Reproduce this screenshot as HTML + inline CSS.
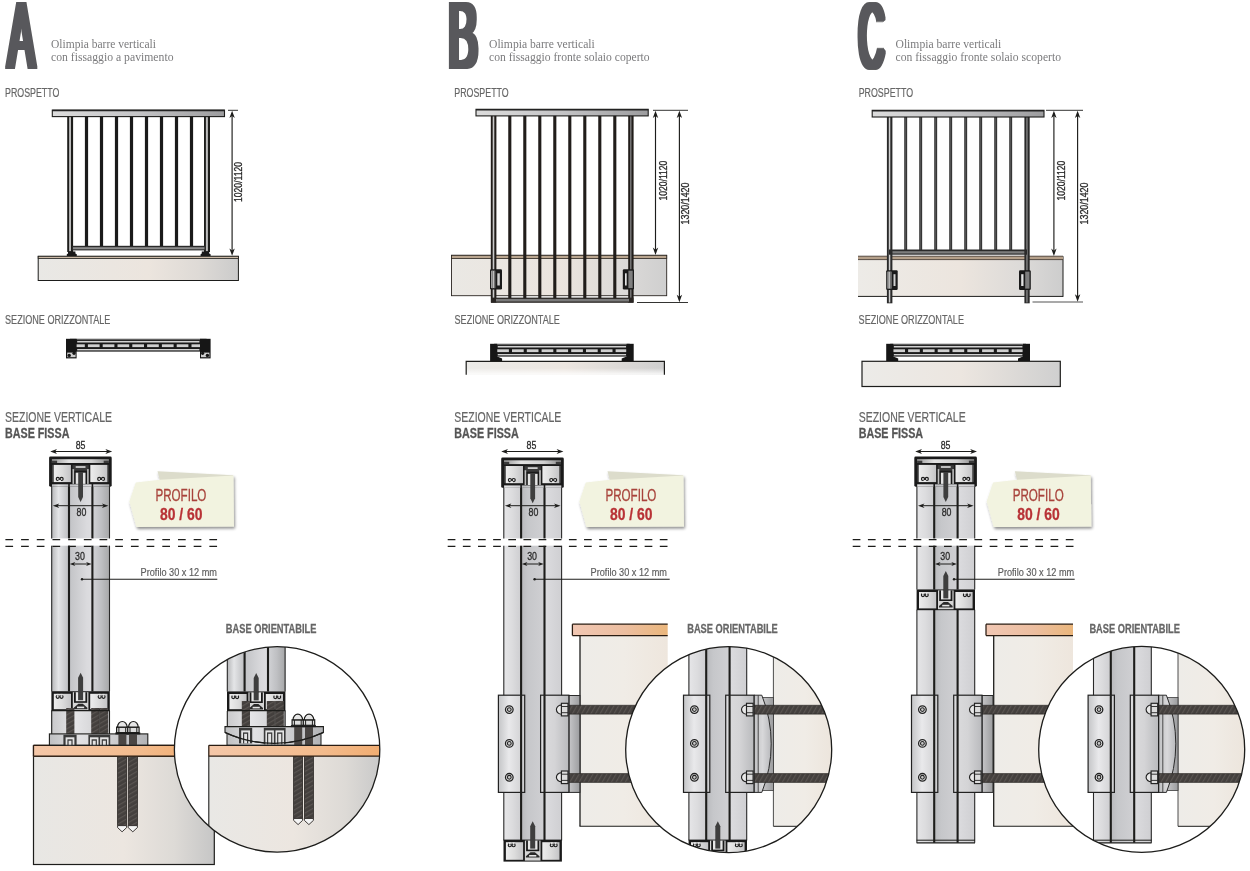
<!DOCTYPE html>
<html lang="it"><head><meta charset="utf-8"><title>Olimpia barre verticali</title>
<style>
html,body{margin:0;padding:0;background:#fff;}
body{width:1250px;height:871px;overflow:hidden;font-family:"Liberation Sans",sans-serif;}
svg{display:block;}
</style></head><body>
<svg width="1250" height="871" viewBox="0 0 1250 871" style="will-change:transform">
<rect width="1250" height="871" fill="#fff"/>

<defs>
<linearGradient id="gRail" x1="0" x2="1" y1="0" y2="0"><stop offset="0" stop-color="#dcdcdc"/><stop offset="0.5" stop-color="#c4c4c6"/><stop offset="1" stop-color="#9c9c9e"/></linearGradient>
<linearGradient id="gGroundA" x1="0" x2="1"><stop offset="0" stop-color="#e9e8e5"/><stop offset="0.55" stop-color="#ece5de"/><stop offset="0.8" stop-color="#dedad6"/><stop offset="1" stop-color="#cbcbcb"/></linearGradient>
<linearGradient id="gGroundB" x1="0" x2="1"><stop offset="0" stop-color="#eae8e4"/><stop offset="0.5" stop-color="#ece5de"/><stop offset="0.8" stop-color="#dcdad8"/><stop offset="1" stop-color="#cfcfcf"/></linearGradient>
<linearGradient id="gGroundC" x1="0" x2="1"><stop offset="0" stop-color="#edebe7"/><stop offset="0.5" stop-color="#ece5de"/><stop offset="0.8" stop-color="#dcdad8"/><stop offset="1" stop-color="#cdcdcd"/></linearGradient>
<linearGradient id="gSlabH" x1="0" x2="1"><stop offset="0" stop-color="#ecebe8"/><stop offset="0.5" stop-color="#ece6e0"/><stop offset="1" stop-color="#cfcfcf"/></linearGradient>
<linearGradient id="gFadeDown" x1="0" x2="0" y1="0" y2="1"><stop offset="0.5" stop-color="#fff" stop-opacity="0"/><stop offset="1" stop-color="#fff" stop-opacity="0.9"/></linearGradient>
<linearGradient id="gP1" x1="0" x2="1"><stop offset="0" stop-color="#b4b5b7"/><stop offset="0.4" stop-color="#e4e5e7"/><stop offset="1" stop-color="#bcbdc0"/></linearGradient>
<linearGradient id="gP2" x1="0" x2="1"><stop offset="0" stop-color="#c2c3c6"/><stop offset="0.75" stop-color="#dadadd"/><stop offset="1" stop-color="#dedee1"/></linearGradient>
<linearGradient id="gP3" x1="0" x2="1"><stop offset="0" stop-color="#d2d3d6"/><stop offset="0.5" stop-color="#bfc0c3"/><stop offset="1" stop-color="#a6a7a8"/></linearGradient>
<linearGradient id="gQ1" x1="0" x2="1"><stop offset="0" stop-color="#e6e6e8"/><stop offset="0.5" stop-color="#dcdcde"/><stop offset="1" stop-color="#cdcdd0"/></linearGradient>
<linearGradient id="gQ2" x1="0" x2="1"><stop offset="0" stop-color="#b9babd"/><stop offset="0.3" stop-color="#c6c7ca"/><stop offset="1" stop-color="#d0d0d3"/></linearGradient>
<linearGradient id="gQ3" x1="0" x2="1"><stop offset="0" stop-color="#dcdcdf"/><stop offset="1" stop-color="#cfcfd2"/></linearGradient>
<linearGradient id="gPeach2" x1="0" x2="1"><stop offset="0" stop-color="#f1c7b3"/><stop offset="0.55" stop-color="#ecbea0"/><stop offset="1" stop-color="#eab67c"/></linearGradient>
<linearGradient id="gStrip" x1="0" x2="1"><stop offset="0" stop-color="#9a9a9a"/><stop offset="0.3" stop-color="#e2e2e2"/><stop offset="0.7" stop-color="#d0d0d0"/><stop offset="1" stop-color="#8a8a8a"/></linearGradient>
<linearGradient id="gCh" x1="0" x2="1"><stop offset="0" stop-color="#ededed"/><stop offset="0.5" stop-color="#dcdcdc"/><stop offset="1" stop-color="#c4c4c6"/></linearGradient>
<linearGradient id="gLow" x1="0" x2="1"><stop offset="0" stop-color="#c9c9cb"/><stop offset="0.4" stop-color="#e6e6e8"/><stop offset="1" stop-color="#c8c8ca"/></linearGradient>
<linearGradient id="gPlate" x1="0" x2="1"><stop offset="0" stop-color="#bfc0c2"/><stop offset="0.3" stop-color="#e2e2e4"/><stop offset="0.6" stop-color="#d2d2d4"/><stop offset="1" stop-color="#b2b3b6"/></linearGradient>
<linearGradient id="gPeach" x1="0" x2="1"><stop offset="0" stop-color="#f4c7a8"/><stop offset="0.6" stop-color="#f3bb8c"/><stop offset="1" stop-color="#f0a868"/></linearGradient>
<linearGradient id="gConcA" x1="0" x2="1"><stop offset="0" stop-color="#e8e7e4"/><stop offset="0.5" stop-color="#ece6e0"/><stop offset="0.78" stop-color="#dddad6"/><stop offset="1" stop-color="#c6c6c6"/></linearGradient>
<linearGradient id="gConcCA" gradientUnits="userSpaceOnUse" x1="208" x2="380"><stop offset="0" stop-color="#e9e8e5"/><stop offset="0.5" stop-color="#ece6e0"/><stop offset="0.8" stop-color="#dddad6"/><stop offset="1" stop-color="#c9c9c9"/></linearGradient>
<linearGradient id="gSlabV" x1="0" x2="1"><stop offset="0" stop-color="#eeece8"/><stop offset="0.5" stop-color="#f0ece6"/><stop offset="1" stop-color="#eee6dd"/></linearGradient>
<linearGradient id="gSlabV2" x1="0" x2="1"><stop offset="0" stop-color="#eeece8"/><stop offset="0.5" stop-color="#f0ece6"/><stop offset="1" stop-color="#ece4db"/></linearGradient>
<linearGradient id="gSl" x1="0" x2="1"><stop offset="0" stop-color="#c4c5c7"/><stop offset="0.4" stop-color="#e9e9eb"/><stop offset="1" stop-color="#cdcdcf"/></linearGradient>
<linearGradient id="gSr" x1="0" x2="1"><stop offset="0" stop-color="#dcdcde"/><stop offset="0.5" stop-color="#d4d4d6"/><stop offset="1" stop-color="#b9babd"/></linearGradient>
<linearGradient id="gExt" x1="0" x2="1"><stop offset="0" stop-color="#c6c6c8"/><stop offset="1" stop-color="#9c9d9f"/></linearGradient>
<linearGradient id="gLens" x1="0" x2="1"><stop offset="0" stop-color="#c0c1c3"/><stop offset="0.5" stop-color="#d8d8da"/><stop offset="1" stop-color="#b8b9bc"/></linearGradient>
<pattern id="hatch" width="4" height="4" patternUnits="userSpaceOnUse" patternTransform="rotate(-30)"><rect width="4" height="4" fill="#433f3d"/><rect width="4" height="1.2" fill="#5a5552"/></pattern>
<pattern id="hatchH" width="4" height="4" patternUnits="userSpaceOnUse" patternTransform="rotate(-60)"><rect width="4" height="4" fill="#433f3d"/><rect width="4" height="1.2" fill="#5a5552"/></pattern>
<filter id="fWide" x="-20%" y="-5%" width="140%" height="110%"><feMorphology operator="dilate" radius="3 0.6"/></filter>
<filter id="fShadow" x="-10%" y="-10%" width="125%" height="130%"><feGaussianBlur in="SourceAlpha" stdDeviation="1.6"/><feOffset dx="1" dy="1.8" result="o"/><feComponentTransfer><feFuncA type="linear" slope="0.45"/></feComponentTransfer><feMerge><feMergeNode/><feMergeNode in="SourceGraphic"/></feMerge></filter>
<clipPath id="clipA"><circle cx="277.1" cy="749.4" r="102.7"/></clipPath>
<clipPath id="clipB"><circle cx="728.7" cy="749.6" r="103"/></clipPath>
<clipPath id="clipC"><circle cx="1141.7" cy="749.4" r="103"/></clipPath>
</defs>

<g filter="url(#fWide)"><text transform="translate(8 68.2) scale(0.42 1)" x="0" y="0" font-family="'Liberation Sans', sans-serif" font-size="94.49" fill="#59595b">A</text></g>
<text x="51" y="47.8" font-family="'Liberation Serif', serif" font-size="12.2" fill="#7b7b7d" textLength="105" lengthAdjust="spacingAndGlyphs">Olimpia barre verticali</text>
<text x="51" y="61" font-family="'Liberation Serif', serif" font-size="12.2" fill="#7b7b7d" textLength="122.5" lengthAdjust="spacingAndGlyphs">con fissaggio a pavimento</text>
<text x="5" y="96.9" font-family="'Liberation Sans', sans-serif" font-size="12.6" fill="#666" textLength="54.4" lengthAdjust="spacingAndGlyphs" stroke="#666" stroke-width="0.2">PROSPETTO</text>
<g filter="url(#fWide)"><text transform="translate(448.15 68.2) scale(0.47 1)" x="0" y="0" font-family="'Liberation Sans', sans-serif" font-size="94.49" fill="#59595b">B</text></g>
<text x="489" y="47.8" font-family="'Liberation Serif', serif" font-size="12.2" fill="#7b7b7d" textLength="105.8" lengthAdjust="spacingAndGlyphs">Olimpia barre verticali</text>
<text x="489" y="61" font-family="'Liberation Serif', serif" font-size="12.2" fill="#7b7b7d" textLength="160.6" lengthAdjust="spacingAndGlyphs">con fissaggio fronte solaio coperto</text>
<text x="454.3" y="96.9" font-family="'Liberation Sans', sans-serif" font-size="12.6" fill="#666" textLength="54.4" lengthAdjust="spacingAndGlyphs" stroke="#666" stroke-width="0.2">PROSPETTO</text>
<g filter="url(#fWide)"><text transform="translate(858.85 67.7) scale(0.38 1)" x="0" y="0" font-family="'Liberation Sans', sans-serif" font-size="92.61" fill="#59595b">C</text></g>
<text x="895.5" y="47.8" font-family="'Liberation Serif', serif" font-size="12.2" fill="#7b7b7d" textLength="105.8" lengthAdjust="spacingAndGlyphs">Olimpia barre verticali</text>
<text x="895.5" y="61" font-family="'Liberation Serif', serif" font-size="12.2" fill="#7b7b7d" textLength="165.5" lengthAdjust="spacingAndGlyphs">con fissaggio fronte solaio scoperto</text>
<text x="858.7" y="96.9" font-family="'Liberation Sans', sans-serif" font-size="12.6" fill="#666" textLength="54.4" lengthAdjust="spacingAndGlyphs" stroke="#666" stroke-width="0.2">PROSPETTO</text>
<rect x="38.2" y="256.3" width="200.2" height="24.2" fill="url(#gGroundA)" stroke="#1d1d1b" stroke-width="1"/>
<rect x="38.2" y="256.3" width="200.2" height="2.1" fill="#cbb9a6" stroke="#1d1d1b" stroke-width="0.8"/>
<rect x="84.9" y="116" width="3.2" height="130.5" fill="#1a1a1a"/>
<rect x="99.9" y="116" width="3.2" height="130.5" fill="#1a1a1a"/>
<rect x="114.9" y="116" width="3.2" height="130.5" fill="#1a1a1a"/>
<rect x="129.9" y="116" width="3.2" height="130.5" fill="#1a1a1a"/>
<rect x="144.9" y="116" width="3.2" height="130.5" fill="#1a1a1a"/>
<rect x="159.9" y="116" width="3.2" height="130.5" fill="#1a1a1a"/>
<rect x="174.9" y="116" width="3.2" height="130.5" fill="#1a1a1a"/>
<rect x="189.9" y="116" width="3.2" height="130.5" fill="#1a1a1a"/>
<rect x="67.2" y="116" width="5.9" height="136" fill="#1d1d1b"/>
<rect x="69.1" y="116" width="1.9" height="135.2" fill="#bdbdbd"/>
<rect x="204" y="116" width="6" height="136" fill="#1d1d1b"/>
<rect x="205.9" y="116" width="2" height="135.2" fill="#bdbdbd"/>
<rect x="72" y="245.8" width="133" height="4.6" fill="#2a2a2a"/>
<rect x="73" y="247.2" width="131.5" height="2.1" fill="#8c8c8c"/>
<path d="M66.8 256 L66.8 254.2 L68 253.6 L68 251.6 L75.4 251.6 L75.4 253.6 L76.8 254.2 L76.8 256Z" fill="#1a1a1a"/>
<path d="M200.6 256 L200.6 254.2 L201.8 253.6 L201.8 251.6 L209.2 251.6 L209.2 253.6 L210.6 254.2 L210.6 256Z" fill="#1a1a1a"/>
<rect x="52.3" y="110.1" width="172.2" height="6.5" fill="url(#gRail)" stroke="#1d1d1b" stroke-width="1.1"/>
<line x1="52.3" y1="110.5" x2="224.5" y2="110.5" stroke="#222" stroke-width="1.6" />
<line x1="228" y1="110.3" x2="238" y2="110.3" stroke="#1d1d1b" stroke-width="0.9" />
<line x1="232.1" y1="113.3" x2="232.1" y2="253" stroke="#1d1d1b" stroke-width="1.15" />
<path d="M232.1 110.7 L234.8 118.1 L232.1 116.03 L229.4 118.1Z" fill="#1d1d1b"/>
<path d="M232.1 255.8 L229.4 248.4 L232.1 250.47 L234.8 248.4Z" fill="#1d1d1b"/>
<text transform="translate(242 182) rotate(-90)" x="0" y="0" text-anchor="middle" font-family="'Liberation Sans', sans-serif" font-size="10.7" fill="#2a2a2a" stroke="#2a2a2a" stroke-width="0.3" textLength="40" lengthAdjust="spacingAndGlyphs">1020/1120</text>
<rect x="451.5" y="255.3" width="215.2" height="40.4" fill="url(#gGroundB)" stroke="#2a2520" stroke-width="0.9"/>
<rect x="451.5" y="255.3" width="215.2" height="3.2" fill="#b9a58f" stroke="#2a2520" stroke-width="0.8"/>
<rect x="508.25" y="115" width="3.1" height="184" fill="#211d1a"/>
<rect x="523.25" y="115" width="3.1" height="184" fill="#211d1a"/>
<rect x="538.25" y="115" width="3.1" height="184" fill="#211d1a"/>
<rect x="553.25" y="115" width="3.1" height="184" fill="#211d1a"/>
<rect x="568.25" y="115" width="3.1" height="184" fill="#211d1a"/>
<rect x="583.25" y="115" width="3.1" height="184" fill="#211d1a"/>
<rect x="598.25" y="115" width="3.1" height="184" fill="#211d1a"/>
<rect x="613.25" y="115" width="3.1" height="184" fill="#211d1a"/>
<rect x="490.8" y="115" width="5.6" height="187.6" fill="#211d1a"/>
<rect x="492.7" y="115" width="1.6" height="186.8" fill="#c9c9c9"/>
<rect x="628.2" y="115" width="5.4" height="187.6" fill="#211d1a"/>
<rect x="630.1" y="115" width="1.4" height="186.8" fill="#7d7d7d"/>
<rect x="491" y="297.6" width="142.5" height="5.2" fill="#2a2623"/>
<rect x="496" y="298.9" width="133" height="2.6" fill="#7a7a7a"/>
<rect x="490" y="269.3" width="12" height="20.2" rx="1.2" fill="#1a1a1a"/>
<rect x="491.3" y="270.7" width="3.9" height="17.4" fill="#d6d6d6"/>
<line x1="492.6" y1="270.5" x2="492.6" y2="288.3" stroke="#555" stroke-width="0.7" />
<line x1="494.4" y1="270.5" x2="494.4" y2="288.3" stroke="#333" stroke-width="0.7" />
<rect x="497.3" y="273.3" width="2.5" height="12.2" fill="#d0d0d0"/>
<rect x="622.8" y="269.3" width="11.2" height="20.2" rx="1.2" fill="#1a1a1a"/>
<rect x="628.4" y="270.7" width="4.3" height="17.4" fill="#7e7e7e"/>
<rect x="625" y="273.3" width="1.7" height="12.2" fill="#e2e2e2"/>
<rect x="476" y="109.3" width="172.2" height="6.6" fill="url(#gRail)" stroke="#1d1d1b" stroke-width="1.1"/>
<line x1="476" y1="109.7" x2="648.2" y2="109.7" stroke="#222" stroke-width="1.6" />
<line x1="653" y1="110.3" x2="688" y2="110.3" stroke="#1d1d1b" stroke-width="0.9" />
<line x1="637" y1="302.5" x2="688" y2="302.5" stroke="#1d1d1b" stroke-width="0.9" />
<line x1="655.5" y1="113.3" x2="655.5" y2="252.2" stroke="#1d1d1b" stroke-width="1.15" />
<path d="M655.5 110.7 L658.2 118.1 L655.5 116.03 L652.8 118.1Z" fill="#1d1d1b"/>
<path d="M655.5 255 L652.8 247.6 L655.5 249.67 L658.2 247.6Z" fill="#1d1d1b"/>
<text transform="translate(667 180.6) rotate(-90)" x="0" y="0" text-anchor="middle" font-family="'Liberation Sans', sans-serif" font-size="10.7" fill="#2a2a2a" stroke="#2a2a2a" stroke-width="0.3" textLength="40" lengthAdjust="spacingAndGlyphs">1020/1120</text>
<line x1="679.4" y1="113.3" x2="679.4" y2="299.4" stroke="#1d1d1b" stroke-width="1.15" />
<path d="M679.4 110.7 L682.1 118.1 L679.4 116.03 L676.7 118.1Z" fill="#1d1d1b"/>
<path d="M679.4 302.2 L676.7 294.8 L679.4 296.87 L682.1 294.8Z" fill="#1d1d1b"/>
<text transform="translate(689.2 203.5) rotate(-90)" x="0" y="0" text-anchor="middle" font-family="'Liberation Sans', sans-serif" font-size="10.7" fill="#2a2a2a" stroke="#2a2a2a" stroke-width="0.3" textLength="42" lengthAdjust="spacingAndGlyphs">1320/1420</text>
<rect x="858" y="256.2" width="205" height="40.2" fill="url(#gGroundC)"/>
<line x1="858" y1="296.4" x2="1063" y2="296.4" stroke="#1d1d1b" stroke-width="1" />
<line x1="1063" y1="256.2" x2="1063" y2="296.9" stroke="#1d1d1b" stroke-width="1" />
<rect x="858" y="256.2" width="205" height="3.4" fill="#b5a08a"/>
<line x1="858" y1="256.2" x2="1063" y2="256.2" stroke="#3a3028" stroke-width="0.8" />
<line x1="858" y1="259.6" x2="1063" y2="259.6" stroke="#3a3028" stroke-width="0.8" />
<rect x="904.25" y="116.5" width="2.9" height="133.5" fill="#2b2b2b"/>
<rect x="905.15" y="116.5" width="1.1" height="133.5" fill="#5a5a5a"/>
<rect x="919.25" y="116.5" width="2.9" height="133.5" fill="#2b2b2b"/>
<rect x="920.15" y="116.5" width="1.1" height="133.5" fill="#5a5a5a"/>
<rect x="934.25" y="116.5" width="2.9" height="133.5" fill="#2b2b2b"/>
<rect x="935.15" y="116.5" width="1.1" height="133.5" fill="#5a5a5a"/>
<rect x="949.25" y="116.5" width="2.9" height="133.5" fill="#2b2b2b"/>
<rect x="950.15" y="116.5" width="1.1" height="133.5" fill="#5a5a5a"/>
<rect x="964.25" y="116.5" width="2.9" height="133.5" fill="#2b2b2b"/>
<rect x="965.15" y="116.5" width="1.1" height="133.5" fill="#5a5a5a"/>
<rect x="979.25" y="116.5" width="2.9" height="133.5" fill="#2b2b2b"/>
<rect x="980.15" y="116.5" width="1.1" height="133.5" fill="#5a5a5a"/>
<rect x="994.25" y="116.5" width="2.9" height="133.5" fill="#2b2b2b"/>
<rect x="995.15" y="116.5" width="1.1" height="133.5" fill="#5a5a5a"/>
<rect x="1009.25" y="116.5" width="2.9" height="133.5" fill="#2b2b2b"/>
<rect x="1010.15" y="116.5" width="1.1" height="133.5" fill="#5a5a5a"/>
<rect x="886.9" y="116.5" width="5.5" height="186.8" fill="#2a2a2a"/>
<rect x="888.8" y="116.5" width="1.5" height="186" fill="#d0d0d0"/>
<rect x="1024.4" y="116.5" width="5.3" height="186.8" fill="#2a2a2a"/>
<rect x="1026.3" y="116.5" width="1.3" height="186" fill="#8a8a8a"/>
<rect x="889" y="249.5" width="138" height="5.2" fill="#2a2a2a"/>
<rect x="892.5" y="251.2" width="131.8" height="2.3" fill="#7d7d7d"/>
<rect x="886.2" y="270.2" width="11.5" height="19.8" rx="1.2" fill="#1a1a1a"/>
<rect x="887.5" y="271.6" width="3.9" height="17" fill="#d6d6d6"/>
<line x1="888.8" y1="271.4" x2="888.8" y2="288.8" stroke="#555" stroke-width="0.7" />
<line x1="890.6" y1="271.4" x2="890.6" y2="288.8" stroke="#333" stroke-width="0.7" />
<rect x="893.5" y="274.2" width="2" height="11.8" fill="#d0d0d0"/>
<rect x="1019" y="270.2" width="11.8" height="19.8" rx="1.2" fill="#1a1a1a"/>
<rect x="1025.2" y="271.6" width="4.3" height="17" fill="#7e7e7e"/>
<rect x="1021.2" y="274.2" width="2.3" height="11.8" fill="#e2e2e2"/>
<rect x="872.2" y="110.3" width="171.8" height="6.7" fill="url(#gRail)" stroke="#1d1d1b" stroke-width="1.1"/>
<line x1="872.2" y1="110.7" x2="1044" y2="110.7" stroke="#222" stroke-width="1.6" />
<line x1="1046" y1="110.3" x2="1083" y2="110.3" stroke="#1d1d1b" stroke-width="0.9" />
<line x1="1032.5" y1="302" x2="1083" y2="302" stroke="#555" stroke-width="1.1" />
<line x1="1053.9" y1="113.3" x2="1053.9" y2="253.2" stroke="#1d1d1b" stroke-width="1.15" />
<path d="M1053.9 110.7 L1056.6 118.1 L1053.9 116.03 L1051.2 118.1Z" fill="#1d1d1b"/>
<path d="M1053.9 256 L1051.2 248.6 L1053.9 250.67 L1056.6 248.6Z" fill="#1d1d1b"/>
<text transform="translate(1065.4 180.6) rotate(-90)" x="0" y="0" text-anchor="middle" font-family="'Liberation Sans', sans-serif" font-size="10.7" fill="#2a2a2a" stroke="#2a2a2a" stroke-width="0.3" textLength="40" lengthAdjust="spacingAndGlyphs">1020/1120</text>
<line x1="1077.6" y1="113.3" x2="1077.6" y2="298.9" stroke="#1d1d1b" stroke-width="1.15" />
<path d="M1077.6 110.7 L1080.3 118.1 L1077.6 116.03 L1074.9 118.1Z" fill="#1d1d1b"/>
<path d="M1077.6 301.7 L1074.9 294.3 L1077.6 296.37 L1080.3 294.3Z" fill="#1d1d1b"/>
<text transform="translate(1087.6 203.5) rotate(-90)" x="0" y="0" text-anchor="middle" font-family="'Liberation Sans', sans-serif" font-size="10.7" fill="#2a2a2a" stroke="#2a2a2a" stroke-width="0.3" textLength="42" lengthAdjust="spacingAndGlyphs">1320/1420</text>
<text x="5" y="323.9" font-family="'Liberation Sans', sans-serif" font-size="12.4" fill="#666" textLength="105.4" lengthAdjust="spacingAndGlyphs" stroke="#666" stroke-width="0.2">SEZIONE ORIZZONTALE</text>
<rect x="70" y="338.8" width="136.6" height="12.8" fill="#1a1a1a"/>
<rect x="76.6" y="339" width="123.4" height="1.2" fill="#606060"/>
<rect x="77.2" y="341" width="122.2" height="1.5" fill="#d2d2d2"/>
<rect x="77.2" y="349" width="122.2" height="1.4" fill="#d2d2d2"/>
<rect x="73.1" y="344.3" width="11.7" height="2.8" fill="#cfcfcf"/>
<rect x="87.9" y="344.3" width="11.7" height="2.8" fill="#cfcfcf"/>
<rect x="102.7" y="344.3" width="11.7" height="2.8" fill="#cfcfcf"/>
<rect x="117.5" y="344.3" width="11.7" height="2.8" fill="#cfcfcf"/>
<rect x="132.3" y="344.3" width="11.7" height="2.8" fill="#cfcfcf"/>
<rect x="147.1" y="344.3" width="11.7" height="2.8" fill="#cfcfcf"/>
<rect x="161.9" y="344.3" width="11.7" height="2.8" fill="#cfcfcf"/>
<rect x="176.7" y="344.3" width="11.7" height="2.8" fill="#cfcfcf"/>
<rect x="191.5" y="344.3" width="11.7" height="2.8" fill="#cfcfcf"/>
<rect x="66" y="338.8" width="10.6" height="19.6" fill="#161616"/>
<rect x="200" y="338.8" width="10.6" height="19.6" fill="#161616"/>
<rect x="67.2" y="352.6" width="8.4" height="4.6" fill="#cfcfcf"/>
<rect x="201" y="352.6" width="8.4" height="4.6" fill="#cfcfcf"/>
<circle cx="69.2" cy="355.4" r="1.7" fill="#161616"/>
<circle cx="74" cy="353.3" r="1.6" fill="#161616"/>
<circle cx="207.4" cy="355.4" r="1.7" fill="#161616"/>
<circle cx="202.6" cy="353.3" r="1.6" fill="#161616"/>
<text x="454.5" y="323.9" font-family="'Liberation Sans', sans-serif" font-size="12.4" fill="#666" textLength="105.4" lengthAdjust="spacingAndGlyphs" stroke="#666" stroke-width="0.2">SEZIONE ORIZZONTALE</text>
<rect x="466.2" y="361.3" width="198.2" height="13.5" fill="url(#gSlabH)"/>
<rect x="466.2" y="361.3" width="198.2" height="13.5" fill="url(#gFadeDown)"/>
<path d="M466.2 374.8 L466.2 361.3 L664.4 361.3 L664.4 374.8" fill="none" stroke="#1d1d1b" stroke-width="1.2"/>
<rect x="494.1" y="343.8" width="135.6" height="12.8" fill="#1a1a1a"/>
<rect x="497.1" y="344" width="129.6" height="1.2" fill="#606060"/>
<rect x="497.7" y="346" width="128.4" height="1.5" fill="#d2d2d2"/>
<rect x="497.7" y="354" width="128.4" height="1.4" fill="#d2d2d2"/>
<rect x="497.2" y="349.3" width="11.7" height="2.8" fill="#cfcfcf"/>
<rect x="512" y="349.3" width="11.7" height="2.8" fill="#cfcfcf"/>
<rect x="526.8" y="349.3" width="11.7" height="2.8" fill="#cfcfcf"/>
<rect x="541.6" y="349.3" width="11.7" height="2.8" fill="#cfcfcf"/>
<rect x="556.4" y="349.3" width="11.7" height="2.8" fill="#cfcfcf"/>
<rect x="571.2" y="349.3" width="11.7" height="2.8" fill="#cfcfcf"/>
<rect x="586" y="349.3" width="11.7" height="2.8" fill="#cfcfcf"/>
<rect x="600.8" y="349.3" width="11.7" height="2.8" fill="#cfcfcf"/>
<rect x="615.6" y="349.3" width="10.7" height="2.8" fill="#cfcfcf"/>
<rect x="490.1" y="343.8" width="7" height="17.2" fill="#161616"/>
<rect x="626.7" y="343.8" width="7" height="17.2" fill="#161616"/>
<path d="M496.6 356.2 L502.1 358.4 L502.1 361 L496.6 361Z" fill="#161616"/>
<path d="M627.2 356.2 L621.7 358.4 L621.7 361 L627.2 361Z" fill="#161616"/>
<text x="858.6" y="323.9" font-family="'Liberation Sans', sans-serif" font-size="12.4" fill="#666" textLength="105.4" lengthAdjust="spacingAndGlyphs" stroke="#666" stroke-width="0.2">SEZIONE ORIZZONTALE</text>
<rect x="862" y="361.3" width="198.3" height="25.2" fill="url(#gSlabH)" stroke="#1d1d1b" stroke-width="1.2"/>
<rect x="890.2" y="343.8" width="135.8" height="12.8" fill="#1a1a1a"/>
<rect x="893.2" y="344" width="129.8" height="1.2" fill="#606060"/>
<rect x="893.8" y="346" width="128.6" height="1.5" fill="#d2d2d2"/>
<rect x="893.8" y="354" width="128.6" height="1.4" fill="#d2d2d2"/>
<rect x="893.3" y="349.3" width="11.7" height="2.8" fill="#cfcfcf"/>
<rect x="908.1" y="349.3" width="11.7" height="2.8" fill="#cfcfcf"/>
<rect x="922.9" y="349.3" width="11.7" height="2.8" fill="#cfcfcf"/>
<rect x="937.7" y="349.3" width="11.7" height="2.8" fill="#cfcfcf"/>
<rect x="952.5" y="349.3" width="11.7" height="2.8" fill="#cfcfcf"/>
<rect x="967.3" y="349.3" width="11.7" height="2.8" fill="#cfcfcf"/>
<rect x="982.1" y="349.3" width="11.7" height="2.8" fill="#cfcfcf"/>
<rect x="996.9" y="349.3" width="11.7" height="2.8" fill="#cfcfcf"/>
<rect x="1011.7" y="349.3" width="10.9" height="2.8" fill="#cfcfcf"/>
<rect x="886.2" y="343.8" width="7" height="17.2" fill="#161616"/>
<rect x="1023" y="343.8" width="7" height="17.2" fill="#161616"/>
<path d="M892.7 356.2 L898.2 358.4 L898.2 361 L892.7 361Z" fill="#161616"/>
<path d="M1023.5 356.2 L1018 358.4 L1018 361 L1023.5 361Z" fill="#161616"/>
<text x="5" y="422" font-family="'Liberation Sans', sans-serif" font-size="14.5" fill="#666" textLength="107" lengthAdjust="spacingAndGlyphs" stroke="#666" stroke-width="0.2">SEZIONE VERTICALE</text>
<text x="5" y="438" font-family="'Liberation Sans', sans-serif" font-size="14.5" fill="#555" font-weight="bold" textLength="64.4" lengthAdjust="spacingAndGlyphs" stroke="#555" stroke-width="0.3">BASE FISSA</text>
<line x1="54.2" y1="451.5" x2="108.2" y2="451.5" stroke="#1d1d1b" stroke-width="1" />
<path d="M50.2 451.5 L57 449.1 L55.1 451.5 L57 453.9Z" fill="#1d1d1b"/>
<path d="M112.2 451.5 L105.4 453.9 L107.3 451.5 L105.4 449.1Z" fill="#1d1d1b"/>
<text x="80.6" y="449" font-family="'Liberation Sans', sans-serif" font-size="11.5" fill="#2a2a2a" textLength="9.8" lengthAdjust="spacingAndGlyphs" text-anchor="middle" stroke="#2a2a2a" stroke-width="0.3">85</text>
<rect x="33.5" y="756.2" width="180.8" height="108.3" fill="url(#gConcA)" stroke="#1d1d1b" stroke-width="1.2"/>
<rect x="33.5" y="745.3" width="180.8" height="10.9" fill="url(#gPeach)"/>
<path d="M33.5 745.3 L214.3 745.3 M33.5 756.2 L214.3 756.2 M33.5 745.3 L33.5 756.2 M214.3 745.3 L214.3 756.2" fill="none" stroke="#2a1c12" stroke-width="1.25"/>
<rect x="117.6" y="745" width="9" height="80.6" fill="url(#hatch)" stroke="#2a2624" stroke-width="0.8"/>
<path d="M117.6 825.6 L126.6 825.6 L126.6 827.6 L122.1 831.8 L117.6 827.6Z" fill="#f4f4f4" stroke="#2a2624" stroke-width="0.9"/>
<rect x="128.2" y="745" width="9.2" height="80.6" fill="url(#hatch)" stroke="#2a2624" stroke-width="0.8"/>
<path d="M128.2 825.6 L137.4 825.6 L137.4 827.6 L132.8 831.8 L128.2 827.6Z" fill="#f4f4f4" stroke="#2a2624" stroke-width="0.9"/>
<rect x="33.5" y="745.3" width="180.8" height="10.9" fill="url(#gPeach)"/>
<path d="M33.5 745.3 L214.3 745.3 M33.5 756.2 L214.3 756.2 M33.5 745.3 L33.5 756.2 M214.3 745.3 L214.3 756.2" fill="none" stroke="#2a1c12" stroke-width="1.25"/>
<rect x="51.4" y="484" width="17.6" height="54.4" fill="url(#gP1)"/>
<rect x="69" y="484" width="23.4" height="54.4" fill="url(#gP2)"/>
<rect x="92.4" y="484" width="17.4" height="54.4" fill="url(#gP3)"/>
<line x1="51.7" y1="484" x2="51.7" y2="538.4" stroke="#2a2a2a" stroke-width="1.1" />
<line x1="109.5" y1="484" x2="109.5" y2="538.4" stroke="#2a2a2a" stroke-width="1.1" />
<line x1="69" y1="484" x2="69" y2="538.4" stroke="#1d1d1b" stroke-width="2.1" />
<line x1="92.4" y1="484" x2="92.4" y2="538.4" stroke="#1d1d1b" stroke-width="2.1" />
<rect x="51.4" y="545.7" width="17.6" height="145.7" fill="url(#gP1)"/>
<rect x="69" y="545.7" width="23.4" height="145.7" fill="url(#gP2)"/>
<rect x="92.4" y="545.7" width="17.4" height="145.7" fill="url(#gP3)"/>
<line x1="51.7" y1="545.7" x2="51.7" y2="691.4" stroke="#2a2a2a" stroke-width="1.1" />
<line x1="109.5" y1="545.7" x2="109.5" y2="691.4" stroke="#2a2a2a" stroke-width="1.1" />
<line x1="69" y1="545.7" x2="69" y2="691.4" stroke="#1d1d1b" stroke-width="2.1" />
<line x1="92.4" y1="545.7" x2="92.4" y2="691.4" stroke="#1d1d1b" stroke-width="2.1" />
<rect x="49.1" y="456.5" width="62.6" height="30.2" rx="1.4" fill="#1a1a1a"/>
<rect x="51.9" y="459.2" width="57" height="3.8" fill="url(#gStrip)"/>
<rect x="51.9" y="460.7" width="5.2" height="2.3" fill="#3a3a3a"/>
<rect x="103.7" y="460.7" width="5.2" height="2.3" fill="#3a3a3a"/>
<rect x="53.7" y="464.9" width="17.2" height="17.2" fill="url(#gCh)"/>
<rect x="52.5" y="464.9" width="1.2" height="17.2" fill="#6a6a6a"/>
<rect x="90.3" y="464.9" width="16.8" height="17.2" fill="url(#gCh)"/>
<rect x="107.1" y="464.9" width="1.2" height="17.2" fill="#6a6a6a"/>
<rect x="72.5" y="465.1" width="16.2" height="5.6" fill="#3a3a3a"/>
<rect x="75.7" y="466.1" width="9.8" height="1.8" fill="#cfcfcf"/>
<rect x="72.5" y="469.1" width="1.6" height="14.8" fill="#bdbdbd"/>
<rect x="87.1" y="469.1" width="1.6" height="14.8" fill="#bdbdbd"/>
<rect x="75.7" y="472.7" width="9.8" height="11.2" fill="#e4e4e4"/>
<circle cx="57.8" cy="478.9" r="1.55" fill="#dadada" stroke="#1a1a1a" stroke-width="1.15"/>
<circle cx="61.6" cy="478.9" r="1.55" fill="#dadada" stroke="#1a1a1a" stroke-width="1.15"/>
<rect x="58.4" y="480.2" width="2.6" height="1.5" fill="#f0f0f0"/>
<circle cx="99.2" cy="478.9" r="1.55" fill="#dadada" stroke="#1a1a1a" stroke-width="1.15"/>
<circle cx="103" cy="478.9" r="1.55" fill="#dadada" stroke="#1a1a1a" stroke-width="1.15"/>
<rect x="99.8" y="480.2" width="2.6" height="1.5" fill="#f0f0f0"/>
<rect x="52" y="484.3" width="16.2" height="2.4" fill="url(#gP1)"/>
<rect x="69.8" y="484.3" width="21.8" height="2.4" fill="url(#gP2)"/>
<rect x="93.2" y="484.3" width="16" height="2.4" fill="url(#gP3)"/>
<path d="M80.6 502.1 L83 497.1 L83 471.9 L78.2 471.9 L78.2 497.1Z" fill="#3e3e3e"/>
<rect x="51.4" y="691.2" width="58.4" height="19.8" fill="#1a1a1a"/>
<rect x="53.8" y="693.8" width="17.2" height="15.4" fill="url(#gCh)"/>
<rect x="90.2" y="693.8" width="17.2" height="15.4" fill="url(#gCh)"/>
<rect x="72.8" y="692.2" width="15.6" height="17.8" fill="#d6d6d6"/>
<rect x="74" y="692.2" width="13.2" height="10.6" fill="#1a1a1a"/>
<rect x="75.8" y="692.2" width="9.6" height="9" fill="#e6e6e6"/>
<rect x="78.1" y="691.2" width="5" height="9" fill="#3e3e3e"/>
<path d="M73.8 707.8 L78.4 703.8 L82.8 703.8 L87.4 707.8 L87.4 709.2 L73.8 709.2Z" fill="#2a2a2a"/>
<rect x="77" y="706.6" width="7.2" height="1.6" fill="#e6e6e6"/>
<circle cx="57.7" cy="696.8" r="1.55" fill="#dadada" stroke="#1a1a1a" stroke-width="1.15"/>
<circle cx="61.5" cy="696.8" r="1.55" fill="#dadada" stroke="#1a1a1a" stroke-width="1.15"/>
<rect x="56.7" y="693.9" width="2" height="1.9" fill="#e4e4e4"/>
<rect x="60.5" y="693.9" width="2" height="1.9" fill="#e4e4e4"/>
<circle cx="99.7" cy="696.8" r="1.55" fill="#dadada" stroke="#1a1a1a" stroke-width="1.15"/>
<circle cx="103.5" cy="696.8" r="1.55" fill="#dadada" stroke="#1a1a1a" stroke-width="1.15"/>
<rect x="98.7" y="693.9" width="2" height="1.9" fill="#e4e4e4"/>
<rect x="102.5" y="693.9" width="2" height="1.9" fill="#e4e4e4"/>
<path d="M80.6 672.8 L83.1 677.8 L83.1 692.2 L78.1 692.2 L78.1 677.8Z" fill="#3e3e3e"/>
<rect x="51.4" y="711" width="58.4" height="23" fill="url(#gLow)"/>
<line x1="51.7" y1="711" x2="51.7" y2="734" stroke="#1d1d1b" stroke-width="1.1" />
<line x1="109.5" y1="711" x2="109.5" y2="734" stroke="#1d1d1b" stroke-width="1.1" />
<rect x="66.2" y="708" width="8.2" height="26" fill="url(#hatch)"/>
<rect x="91.2" y="708" width="8" height="26" fill="url(#hatch)"/>
<rect x="99.6" y="708" width="8.6" height="26" fill="url(#hatch)"/>
<line x1="99.4" y1="708" x2="99.4" y2="734" stroke="#2a2624" stroke-width="0.7" />
<line x1="51.4" y1="710.6" x2="109.8" y2="710.6" stroke="#1d1d1b" stroke-width="1.2" />
<rect x="49.4" y="733.9" width="98.4" height="11.4" fill="url(#gPlate)" stroke="#1d1d1b" stroke-width="1.1"/>
<rect x="63.4" y="734.7" width="13.2" height="10.6" fill="#3a3a3a"/>
<rect x="65.6" y="737.3" width="8.8" height="8" fill="#e4e4e4"/>
<rect x="67.4" y="739.3" width="5.2" height="6" fill="#3a3a3a"/>
<rect x="68.6" y="740.7" width="2.8" height="4.6" fill="#e4e4e4"/>
<rect x="88.4" y="734.7" width="21.8" height="10.6" fill="#3a3a3a"/>
<rect x="90" y="737.3" width="8.5" height="8" fill="#e4e4e4"/>
<rect x="91.6" y="739.3" width="5.3" height="6" fill="#3a3a3a"/>
<rect x="92.8" y="740.7" width="2.9" height="4.6" fill="#e4e4e4"/>
<rect x="100.1" y="737.3" width="8.5" height="8" fill="#e4e4e4"/>
<rect x="101.7" y="739.3" width="5.3" height="6" fill="#3a3a3a"/>
<rect x="102.9" y="740.7" width="2.9" height="4.6" fill="#e4e4e4"/>
<rect x="118.4" y="734.4" width="8" height="10.9" fill="#4a4644"/>
<rect x="129" y="734.4" width="8" height="10.9" fill="#4a4644"/>
<line x1="49.4" y1="745.3" x2="147.8" y2="745.3" stroke="#1d1d1b" stroke-width="1.1" />
<rect x="115.4" y="732.4" width="13.8" height="2" fill="#1a1a1a"/>
<rect x="116.6" y="727.1" width="11.4" height="5.5" fill="#dedede" stroke="#1d1d1b" stroke-width="1.2"/>
<line x1="118.9" y1="727.1" x2="118.9" y2="732.6" stroke="#1d1d1b" stroke-width="1" />
<line x1="125.7" y1="727.1" x2="125.7" y2="732.6" stroke="#1d1d1b" stroke-width="1" />
<path d="M117.5 727.1 A4.8 5.6 0 0 1 127.1 727.1Z" fill="#e6e6e6" stroke="#1d1d1b" stroke-width="1.2"/>
<rect x="126.5" y="732.4" width="13.8" height="2" fill="#1a1a1a"/>
<rect x="127.7" y="727.1" width="11.4" height="5.5" fill="#dedede" stroke="#1d1d1b" stroke-width="1.2"/>
<line x1="130" y1="727.1" x2="130" y2="732.6" stroke="#1d1d1b" stroke-width="1" />
<line x1="136.8" y1="727.1" x2="136.8" y2="732.6" stroke="#1d1d1b" stroke-width="1" />
<path d="M128.6 727.1 A4.8 5.6 0 0 1 138.2 727.1Z" fill="#e6e6e6" stroke="#1d1d1b" stroke-width="1.2"/>
<line x1="56.4" y1="505.7" x2="104.8" y2="505.7" stroke="#1d1d1b" stroke-width="1" />
<path d="M52.8 505.7 L59.3 503.4 L57.48 505.7 L59.3 508Z" fill="#1d1d1b"/>
<path d="M108.4 505.7 L101.9 508 L103.72 505.7 L101.9 503.4Z" fill="#1d1d1b"/>
<text x="81.4" y="516.3" font-family="'Liberation Sans', sans-serif" font-size="11.5" fill="#2a2a2a" textLength="9.8" lengthAdjust="spacingAndGlyphs" text-anchor="middle" stroke="#2a2a2a" stroke-width="0.3">80</text>
<line x1="73" y1="564" x2="88.4" y2="564" stroke="#1d1d1b" stroke-width="1" />
<path d="M69.8 564 L75.3 561.9 L73.76 564 L75.3 566.1Z" fill="#1d1d1b"/>
<path d="M91.6 564 L86.1 566.1 L87.64 564 L86.1 561.9Z" fill="#1d1d1b"/>
<text x="80" y="559.8" font-family="'Liberation Sans', sans-serif" font-size="11.5" fill="#2a2a2a" textLength="9.8" lengthAdjust="spacingAndGlyphs" text-anchor="middle" stroke="#2a2a2a" stroke-width="0.3">30</text>
<line x1="5.4" y1="539.5" x2="217.1" y2="539.5" stroke="#1d1d1b" stroke-width="1.25" stroke-dasharray="7.7 7.99"/>
<line x1="5.4" y1="546.3" x2="217.1" y2="546.3" stroke="#1d1d1b" stroke-width="1.25" stroke-dasharray="7.7 7.99"/>
<line x1="82" y1="579.3" x2="217.3" y2="579.3" stroke="#1d1d1b" stroke-width="1.1" />
<circle cx="82" cy="579.3" r="1.2" fill="#1d1d1b"/>
<text x="140.6" y="575.7" font-family="'Liberation Sans', sans-serif" font-size="11.3" fill="#5e5e5e" textLength="76.4" lengthAdjust="spacingAndGlyphs" stroke="#5e5e5e" stroke-width="0.2">Profilo 30 x 12 mm</text>
<g filter="url(#fShadow)">
<path d="M157.5 471.2 L233.2 475.2 L233.2 480.6 L160 480.6Z" fill="#dcdccb"/>
<path d="M129.4 501.4 L135.8 482.6 L160 479.8 L233.4 475.6 L234 526.6 L136.4 527 Z" fill="#f2f3e0"/>
</g>
<text x="155.4" y="500.5" font-family="'Liberation Sans', sans-serif" font-size="16.2" fill="#a8433b" textLength="51" lengthAdjust="spacingAndGlyphs" stroke="#a8433b" stroke-width="0.3">PROFILO</text>
<text x="160" y="519.9" font-family="'Liberation Sans', sans-serif" font-size="16" fill="#b83236" font-weight="bold" textLength="42.4" lengthAdjust="spacingAndGlyphs" stroke="#b83236" stroke-width="0.3">80 / 60</text>
<text x="225.8" y="632.9" font-family="'Liberation Sans', sans-serif" font-size="12.8" fill="#666" font-weight="bold" textLength="90.6" lengthAdjust="spacingAndGlyphs" stroke="#666" stroke-width="0.3">BASE ORIENTABILE</text>
<circle cx="277.1" cy="749.4" r="102.7" fill="#fff"/>
<g clip-path="url(#clipA)">
<rect x="208.8" y="756.2" width="191.2" height="108.3" fill="url(#gConcCA)"/>
<line x1="208.8" y1="756" x2="208.8" y2="864" stroke="#1d1d1b" stroke-width="1.1" />
<rect x="293.6" y="745" width="9" height="73.4" fill="url(#hatch)" stroke="#2a2624" stroke-width="0.8"/>
<path d="M293.6 818.4 L302.6 818.4 L302.6 820.4 L298.1 824.6 L293.6 820.4Z" fill="#f4f4f4" stroke="#2a2624" stroke-width="0.9"/>
<rect x="304.4" y="745" width="9" height="73.4" fill="url(#hatch)" stroke="#2a2624" stroke-width="0.8"/>
<path d="M304.4 818.4 L313.4 818.4 L313.4 820.4 L308.9 824.6 L304.4 820.4Z" fill="#f4f4f4" stroke="#2a2624" stroke-width="0.9"/>
<rect x="208.8" y="745.3" width="191.2" height="10.9" fill="url(#gPeach)"/>
<path d="M208.8 745.3 L400 745.3 M208.8 756.2 L400 756.2 M208.8 745.3 L208.8 756.2" fill="none" stroke="#2a1c12" stroke-width="1.25"/>
<rect x="227" y="640" width="17.6" height="51.6" fill="url(#gP1)"/>
<rect x="244.6" y="640" width="23.4" height="51.6" fill="url(#gP2)"/>
<rect x="268" y="640" width="17.4" height="51.6" fill="url(#gP3)"/>
<line x1="227.3" y1="640" x2="227.3" y2="691.6" stroke="#2a2a2a" stroke-width="1.1" />
<line x1="285.1" y1="640" x2="285.1" y2="691.6" stroke="#2a2a2a" stroke-width="1.1" />
<line x1="244.6" y1="640" x2="244.6" y2="691.6" stroke="#1d1d1b" stroke-width="2.1" />
<line x1="268" y1="640" x2="268" y2="691.6" stroke="#1d1d1b" stroke-width="2.1" />
<rect x="227" y="691.4" width="58.4" height="19.6" fill="#1a1a1a"/>
<rect x="229.4" y="694" width="17.2" height="15.2" fill="url(#gCh)"/>
<rect x="265.8" y="694" width="17.2" height="15.2" fill="url(#gCh)"/>
<rect x="248.4" y="692.4" width="15.6" height="17.6" fill="#d6d6d6"/>
<rect x="249.6" y="692.4" width="13.2" height="10.6" fill="#1a1a1a"/>
<rect x="251.4" y="692.4" width="9.6" height="9" fill="#e6e6e6"/>
<rect x="253.7" y="691.4" width="5" height="9" fill="#3e3e3e"/>
<path d="M249.4 708 L254 704 L258.4 704 L263 708 L263 709.4 L249.4 709.4Z" fill="#2a2a2a"/>
<rect x="252.6" y="706.8" width="7.2" height="1.6" fill="#e6e6e6"/>
<circle cx="233.3" cy="697" r="1.55" fill="#dadada" stroke="#1a1a1a" stroke-width="1.15"/>
<circle cx="237.1" cy="697" r="1.55" fill="#dadada" stroke="#1a1a1a" stroke-width="1.15"/>
<rect x="232.3" y="694.1" width="2" height="1.9" fill="#e4e4e4"/>
<rect x="236.1" y="694.1" width="2" height="1.9" fill="#e4e4e4"/>
<circle cx="275.3" cy="697" r="1.55" fill="#dadada" stroke="#1a1a1a" stroke-width="1.15"/>
<circle cx="279.1" cy="697" r="1.55" fill="#dadada" stroke="#1a1a1a" stroke-width="1.15"/>
<rect x="274.3" y="694.1" width="2" height="1.9" fill="#e4e4e4"/>
<rect x="278.1" y="694.1" width="2" height="1.9" fill="#e4e4e4"/>
<path d="M256.2 673 L258.7 678 L258.7 692.4 L253.7 692.4 L253.7 678Z" fill="#3e3e3e"/>
<rect x="227" y="711" width="58.4" height="16" fill="url(#gLow)"/>
<line x1="227.3" y1="711" x2="227.3" y2="727" stroke="#1d1d1b" stroke-width="1.1" />
<line x1="285.1" y1="711" x2="285.1" y2="727" stroke="#1d1d1b" stroke-width="1.1" />
<rect x="241.8" y="701" width="8.2" height="26" fill="url(#hatch)"/>
<rect x="266.8" y="701" width="8" height="26" fill="url(#hatch)"/>
<rect x="275.2" y="701" width="8.6" height="26" fill="url(#hatch)"/>
<line x1="275" y1="701" x2="275" y2="727" stroke="#2a2624" stroke-width="0.7" />
<line x1="227" y1="710.6" x2="285.4" y2="710.6" stroke="#1d1d1b" stroke-width="1.2" />
<rect x="227" y="731" width="94" height="14.3" fill="url(#gPlate)" stroke="#1d1d1b" stroke-width="1"/>
<path d="M225 726.6 L323.4 726.6 L323.4 732.4 A115.53 115.53 0 0 1 225 732.4Z" fill="url(#gPlate)" stroke="#1d1d1b" stroke-width="1.1"/>
<rect x="239" y="727.8" width="13.2" height="15.6" fill="#3a3a3a"/>
<rect x="241.2" y="730.4" width="8.8" height="13" fill="#e4e4e4"/>
<rect x="243" y="732.4" width="5.2" height="11" fill="#3a3a3a"/>
<rect x="244.2" y="733.8" width="2.8" height="9.6" fill="#e4e4e4"/>
<rect x="263.8" y="727.8" width="21.8" height="16.6" fill="#3a3a3a"/>
<rect x="265.4" y="730.4" width="8.5" height="14" fill="#e4e4e4"/>
<rect x="267" y="732.4" width="5.3" height="12" fill="#3a3a3a"/>
<rect x="268.2" y="733.8" width="2.9" height="10.6" fill="#e4e4e4"/>
<rect x="275.5" y="730.4" width="8.5" height="14" fill="#e4e4e4"/>
<rect x="277.1" y="732.4" width="5.3" height="12" fill="#3a3a3a"/>
<rect x="278.3" y="733.8" width="2.9" height="10.6" fill="#e4e4e4"/>
<rect x="294.2" y="727" width="8" height="18.3" fill="#4a4644"/>
<rect x="305" y="727" width="8" height="18.3" fill="#4a4644"/>
<path d="M323.4 732.4 A115.53 115.53 0 0 1 225 732.4" fill="none" stroke="#1d1d1b" stroke-width="1.2"/>
<line x1="227" y1="745.3" x2="321" y2="745.3" stroke="#1d1d1b" stroke-width="1.1" />
<rect x="290.9" y="725.1" width="13.8" height="2" fill="#1a1a1a"/>
<rect x="292.1" y="719.8" width="11.4" height="5.5" fill="#dedede" stroke="#1d1d1b" stroke-width="1.2"/>
<line x1="294.4" y1="719.8" x2="294.4" y2="725.3" stroke="#1d1d1b" stroke-width="1" />
<line x1="301.2" y1="719.8" x2="301.2" y2="725.3" stroke="#1d1d1b" stroke-width="1" />
<path d="M293 719.8 A4.8 5.6 0 0 1 302.6 719.8Z" fill="#e6e6e6" stroke="#1d1d1b" stroke-width="1.2"/>
<rect x="302.1" y="725.1" width="13.8" height="2" fill="#1a1a1a"/>
<rect x="303.3" y="719.8" width="11.4" height="5.5" fill="#dedede" stroke="#1d1d1b" stroke-width="1.2"/>
<line x1="305.6" y1="719.8" x2="305.6" y2="725.3" stroke="#1d1d1b" stroke-width="1" />
<line x1="312.4" y1="719.8" x2="312.4" y2="725.3" stroke="#1d1d1b" stroke-width="1" />
<path d="M304.2 719.8 A4.8 5.6 0 0 1 313.8 719.8Z" fill="#e6e6e6" stroke="#1d1d1b" stroke-width="1.2"/>
</g>
<circle cx="277.1" cy="749.4" r="102.7" fill="none" stroke="#1d1d1b" stroke-width="1.3"/>
<text x="454.3" y="422" font-family="'Liberation Sans', sans-serif" font-size="14.5" fill="#666" textLength="107" lengthAdjust="spacingAndGlyphs" stroke="#666" stroke-width="0.2">SEZIONE VERTICALE</text>
<text x="454.3" y="438" font-family="'Liberation Sans', sans-serif" font-size="14.5" fill="#555" font-weight="bold" textLength="64.4" lengthAdjust="spacingAndGlyphs" stroke="#555" stroke-width="0.3">BASE FISSA</text>
<line x1="505.2" y1="451.5" x2="559.4" y2="451.5" stroke="#1d1d1b" stroke-width="1" />
<path d="M501.2 451.5 L508 449.1 L506.1 451.5 L508 453.9Z" fill="#1d1d1b"/>
<path d="M563.4 451.5 L556.6 453.9 L558.5 451.5 L556.6 449.1Z" fill="#1d1d1b"/>
<text x="531.4" y="449" font-family="'Liberation Sans', sans-serif" font-size="11.5" fill="#2a2a2a" textLength="9.8" lengthAdjust="spacingAndGlyphs" text-anchor="middle" stroke="#2a2a2a" stroke-width="0.3">85</text>
<rect x="580" y="635.4" width="87.7" height="190.9" fill="url(#gSlabV)"/>
<line x1="580" y1="635" x2="580" y2="826.3" stroke="#1d1d1b" stroke-width="1.3" />
<line x1="579.5" y1="826.3" x2="667.7" y2="826.3" stroke="#1d1d1b" stroke-width="1.1" />
<rect x="572.4" y="624.2" width="95.3" height="11.4" fill="url(#gPeach2)"/>
<path d="M572.4 624.2 L667.7 624.2 M572.4 635.6 L667.7 635.6 M572.4 624.2 L572.4 635.6" fill="none" stroke="#2a1c12" stroke-width="1.25"/>
<rect x="503.5" y="484" width="17.6" height="54.4" fill="url(#gQ1)"/>
<rect x="521.1" y="484" width="23.4" height="54.4" fill="url(#gQ2)"/>
<rect x="544.5" y="484" width="17.4" height="54.4" fill="url(#gQ3)"/>
<line x1="503.8" y1="484" x2="503.8" y2="538.4" stroke="#2a2a2a" stroke-width="1.1" />
<line x1="561.6" y1="484" x2="561.6" y2="538.4" stroke="#2a2a2a" stroke-width="1.1" />
<line x1="521.1" y1="484" x2="521.1" y2="538.4" stroke="#1d1d1b" stroke-width="2.1" />
<line x1="544.5" y1="484" x2="544.5" y2="538.4" stroke="#1d1d1b" stroke-width="2.1" />
<rect x="503.5" y="545.7" width="17.6" height="294.9" fill="url(#gQ1)"/>
<rect x="521.1" y="545.7" width="23.4" height="294.9" fill="url(#gQ2)"/>
<rect x="544.5" y="545.7" width="17.4" height="294.9" fill="url(#gQ3)"/>
<line x1="503.8" y1="545.7" x2="503.8" y2="840.6" stroke="#2a2a2a" stroke-width="1.1" />
<line x1="561.6" y1="545.7" x2="561.6" y2="840.6" stroke="#2a2a2a" stroke-width="1.1" />
<line x1="521.1" y1="545.7" x2="521.1" y2="840.6" stroke="#1d1d1b" stroke-width="2.1" />
<line x1="544.5" y1="545.7" x2="544.5" y2="840.6" stroke="#1d1d1b" stroke-width="2.1" />
<rect x="503.5" y="839.6" width="58.4" height="22" fill="#1a1a1a"/>
<rect x="505.9" y="842.2" width="17.2" height="17.6" fill="url(#gCh)"/>
<rect x="542.3" y="842.2" width="17.2" height="17.6" fill="url(#gCh)"/>
<rect x="524.9" y="840.6" width="15.6" height="20" fill="#d6d6d6"/>
<rect x="526.1" y="840.6" width="13.2" height="10.6" fill="#1a1a1a"/>
<rect x="527.9" y="840.6" width="9.6" height="9" fill="#e6e6e6"/>
<rect x="530.2" y="839.6" width="5" height="9" fill="#3e3e3e"/>
<path d="M525.9 856.2 L530.5 852.2 L534.9 852.2 L539.5 856.2 L539.5 857.6 L525.9 857.6Z" fill="#2a2a2a"/>
<rect x="529.1" y="855" width="7.2" height="1.6" fill="#e6e6e6"/>
<circle cx="509.8" cy="845.2" r="1.55" fill="#dadada" stroke="#1a1a1a" stroke-width="1.15"/>
<circle cx="513.6" cy="845.2" r="1.55" fill="#dadada" stroke="#1a1a1a" stroke-width="1.15"/>
<rect x="508.8" y="842.3" width="2" height="1.9" fill="#e4e4e4"/>
<rect x="512.6" y="842.3" width="2" height="1.9" fill="#e4e4e4"/>
<circle cx="551.8" cy="845.2" r="1.55" fill="#dadada" stroke="#1a1a1a" stroke-width="1.15"/>
<circle cx="555.6" cy="845.2" r="1.55" fill="#dadada" stroke="#1a1a1a" stroke-width="1.15"/>
<rect x="550.8" y="842.3" width="2" height="1.9" fill="#e4e4e4"/>
<rect x="554.6" y="842.3" width="2" height="1.9" fill="#e4e4e4"/>
<path d="M532.7 821.2 L535.2 826.2 L535.2 840.6 L530.2 840.6 L530.2 826.2Z" fill="#3e3e3e"/>
<rect x="568.9" y="695.5" width="11" height="96.9" fill="url(#gExt)" stroke="#2a2a2a" stroke-width="1"/>
<rect x="568.9" y="705.3" width="98.8" height="8.8" fill="url(#hatchH)"/>
<line x1="568.9" y1="705.3" x2="667.7" y2="705.3" stroke="#2a2624" stroke-width="0.7" />
<line x1="568.9" y1="714.1" x2="667.7" y2="714.1" stroke="#2a2624" stroke-width="0.7" />
<rect x="568.9" y="773.6" width="98.8" height="8.8" fill="url(#hatchH)"/>
<line x1="568.9" y1="773.6" x2="667.7" y2="773.6" stroke="#2a2624" stroke-width="0.7" />
<line x1="568.9" y1="782.4" x2="667.7" y2="782.4" stroke="#2a2624" stroke-width="0.7" />
<rect x="498.4" y="695.2" width="26.3" height="97.2" fill="url(#gSl)" stroke="#222" stroke-width="1.2"/>
<rect x="540.6" y="695.2" width="28.3" height="97.2" fill="url(#gSr)" stroke="#222" stroke-width="1.2"/>
<line x1="521.1" y1="695.2" x2="521.1" y2="792.4" stroke="#1d1d1b" stroke-width="2.1" />
<line x1="544.5" y1="695.2" x2="544.5" y2="792.4" stroke="#1d1d1b" stroke-width="2.1" />
<circle cx="509.3" cy="709.6" r="3.8" fill="#ececec" stroke="#222" stroke-width="1.3"/>
<circle cx="509.3" cy="709.6" r="1.9" fill="#c9c9c9" stroke="#222" stroke-width="1.1"/>
<circle cx="509.3" cy="743.4" r="3.8" fill="#ececec" stroke="#222" stroke-width="1.3"/>
<circle cx="509.3" cy="743.4" r="1.9" fill="#c9c9c9" stroke="#222" stroke-width="1.1"/>
<circle cx="509.3" cy="777.3" r="3.8" fill="#ececec" stroke="#222" stroke-width="1.3"/>
<circle cx="509.3" cy="777.3" r="1.9" fill="#c9c9c9" stroke="#222" stroke-width="1.1"/>
<path d="M561.6 705 A5.2 4.6 0 0 0 561.6 714.2Z" fill="#e8e8e8" stroke="#222" stroke-width="1.15"/>
<rect x="561.4" y="703.3" width="6.6" height="12.6" fill="#dcdcdc" stroke="#222" stroke-width="1.15"/>
<line x1="561.4" y1="706.5" x2="568" y2="706.5" stroke="#222" stroke-width="0.9" />
<line x1="561.4" y1="712.7" x2="568" y2="712.7" stroke="#222" stroke-width="0.9" />
<path d="M561.6 772.7 A5.2 4.6 0 0 0 561.6 781.9Z" fill="#e8e8e8" stroke="#222" stroke-width="1.15"/>
<rect x="561.4" y="771" width="6.6" height="12.6" fill="#dcdcdc" stroke="#222" stroke-width="1.15"/>
<line x1="561.4" y1="774.2" x2="568" y2="774.2" stroke="#222" stroke-width="0.9" />
<line x1="561.4" y1="780.4" x2="568" y2="780.4" stroke="#222" stroke-width="0.9" />
<rect x="501.2" y="457.6" width="62.6" height="30.2" rx="1.4" fill="#1a1a1a"/>
<rect x="504" y="460.3" width="57" height="3.8" fill="url(#gStrip)"/>
<rect x="504" y="461.8" width="5.2" height="2.3" fill="#3a3a3a"/>
<rect x="555.8" y="461.8" width="5.2" height="2.3" fill="#3a3a3a"/>
<rect x="505.8" y="466" width="17.2" height="17.2" fill="url(#gCh)"/>
<rect x="504.6" y="466" width="1.2" height="17.2" fill="#6a6a6a"/>
<rect x="542.4" y="466" width="16.8" height="17.2" fill="url(#gCh)"/>
<rect x="559.2" y="466" width="1.2" height="17.2" fill="#6a6a6a"/>
<rect x="524.6" y="466.2" width="16.2" height="5.6" fill="#3a3a3a"/>
<rect x="527.8" y="467.2" width="9.8" height="1.8" fill="#cfcfcf"/>
<rect x="524.6" y="470.2" width="1.6" height="14.8" fill="#bdbdbd"/>
<rect x="539.2" y="470.2" width="1.6" height="14.8" fill="#bdbdbd"/>
<rect x="527.8" y="473.8" width="9.8" height="11.2" fill="#e4e4e4"/>
<circle cx="509.9" cy="480" r="1.55" fill="#dadada" stroke="#1a1a1a" stroke-width="1.15"/>
<circle cx="513.7" cy="480" r="1.55" fill="#dadada" stroke="#1a1a1a" stroke-width="1.15"/>
<rect x="510.5" y="481.3" width="2.6" height="1.5" fill="#f0f0f0"/>
<circle cx="551.3" cy="480" r="1.55" fill="#dadada" stroke="#1a1a1a" stroke-width="1.15"/>
<circle cx="555.1" cy="480" r="1.55" fill="#dadada" stroke="#1a1a1a" stroke-width="1.15"/>
<rect x="551.9" y="481.3" width="2.6" height="1.5" fill="#f0f0f0"/>
<rect x="504.1" y="485.4" width="16.2" height="2.4" fill="url(#gQ1)"/>
<rect x="521.9" y="485.4" width="21.8" height="2.4" fill="url(#gQ2)"/>
<rect x="545.3" y="485.4" width="16" height="2.4" fill="url(#gQ3)"/>
<path d="M532.7 503.2 L535.1 498.2 L535.1 473 L530.3 473 L530.3 498.2Z" fill="#3e3e3e"/>
<line x1="508.5" y1="505.7" x2="556.9" y2="505.7" stroke="#1d1d1b" stroke-width="1" />
<path d="M504.9 505.7 L511.4 503.4 L509.58 505.7 L511.4 508Z" fill="#1d1d1b"/>
<path d="M560.5 505.7 L554 508 L555.82 505.7 L554 503.4Z" fill="#1d1d1b"/>
<text x="533.5" y="516.3" font-family="'Liberation Sans', sans-serif" font-size="11.5" fill="#2a2a2a" textLength="9.8" lengthAdjust="spacingAndGlyphs" text-anchor="middle" stroke="#2a2a2a" stroke-width="0.3">80</text>
<line x1="525.1" y1="564" x2="540.5" y2="564" stroke="#1d1d1b" stroke-width="1" />
<path d="M521.9 564 L527.4 561.9 L525.86 564 L527.4 566.1Z" fill="#1d1d1b"/>
<path d="M543.7 564 L538.2 566.1 L539.74 564 L538.2 561.9Z" fill="#1d1d1b"/>
<text x="532.1" y="559.8" font-family="'Liberation Sans', sans-serif" font-size="11.5" fill="#2a2a2a" textLength="9.8" lengthAdjust="spacingAndGlyphs" text-anchor="middle" stroke="#2a2a2a" stroke-width="0.3">30</text>
<line x1="447.7" y1="539.5" x2="667.5" y2="539.5" stroke="#1d1d1b" stroke-width="1.25" stroke-dasharray="7.7 7.45"/>
<line x1="447.7" y1="546.3" x2="667.5" y2="546.3" stroke="#1d1d1b" stroke-width="1.25" stroke-dasharray="7.7 7.45"/>
<line x1="534.6" y1="579.3" x2="669.7" y2="579.3" stroke="#1d1d1b" stroke-width="1.1" />
<circle cx="534.6" cy="579.3" r="1.2" fill="#1d1d1b"/>
<text x="590.6" y="575.7" font-family="'Liberation Sans', sans-serif" font-size="11.3" fill="#5e5e5e" textLength="76.4" lengthAdjust="spacingAndGlyphs" stroke="#5e5e5e" stroke-width="0.2">Profilo 30 x 12 mm</text>
<g filter="url(#fShadow)">
<path d="M607.5 471.2 L683.2 475.2 L683.2 480.6 L610 480.6Z" fill="#dcdccb"/>
<path d="M579.4 501.4 L585.8 482.6 L610 479.8 L683.4 475.6 L684 526.6 L586.4 527 Z" fill="#f2f3e0"/>
</g>
<text x="605.4" y="500.5" font-family="'Liberation Sans', sans-serif" font-size="16.2" fill="#a8433b" textLength="51" lengthAdjust="spacingAndGlyphs" stroke="#a8433b" stroke-width="0.3">PROFILO</text>
<text x="610" y="519.9" font-family="'Liberation Sans', sans-serif" font-size="16" fill="#b83236" font-weight="bold" textLength="42.4" lengthAdjust="spacingAndGlyphs" stroke="#b83236" stroke-width="0.3">80 / 60</text>
<text x="687.2" y="632.9" font-family="'Liberation Sans', sans-serif" font-size="12.8" fill="#666" font-weight="bold" textLength="90.6" lengthAdjust="spacingAndGlyphs" stroke="#666" stroke-width="0.3">BASE ORIENTABILE</text>
<circle cx="728.7" cy="749.6" r="103" fill="#fff"/>
<g clip-path="url(#clipB)">
<rect x="773.4" y="600" width="63.3" height="226.3" fill="url(#gSlabV2)"/>
<line x1="773.4" y1="600" x2="773.4" y2="826.3" stroke="#3a3a3a" stroke-width="0.9" />
<line x1="773.4" y1="826.3" x2="836.7" y2="826.3" stroke="#1d1d1b" stroke-width="1" />
<rect x="688.6" y="484" width="17.6" height="54.4" fill="url(#gQ1)"/>
<rect x="706.2" y="484" width="23.4" height="54.4" fill="url(#gQ2)"/>
<rect x="729.6" y="484" width="17.4" height="54.4" fill="url(#gQ3)"/>
<line x1="688.9" y1="484" x2="688.9" y2="538.4" stroke="#2a2a2a" stroke-width="1.1" />
<line x1="746.7" y1="484" x2="746.7" y2="538.4" stroke="#2a2a2a" stroke-width="1.1" />
<line x1="706.2" y1="484" x2="706.2" y2="538.4" stroke="#1d1d1b" stroke-width="2.1" />
<line x1="729.6" y1="484" x2="729.6" y2="538.4" stroke="#1d1d1b" stroke-width="2.1" />
<rect x="688.6" y="545.7" width="17.6" height="294.9" fill="url(#gQ1)"/>
<rect x="706.2" y="545.7" width="23.4" height="294.9" fill="url(#gQ2)"/>
<rect x="729.6" y="545.7" width="17.4" height="294.9" fill="url(#gQ3)"/>
<line x1="688.9" y1="545.7" x2="688.9" y2="840.6" stroke="#2a2a2a" stroke-width="1.1" />
<line x1="746.7" y1="545.7" x2="746.7" y2="840.6" stroke="#2a2a2a" stroke-width="1.1" />
<line x1="706.2" y1="545.7" x2="706.2" y2="840.6" stroke="#1d1d1b" stroke-width="2.1" />
<line x1="729.6" y1="545.7" x2="729.6" y2="840.6" stroke="#1d1d1b" stroke-width="2.1" />
<rect x="688.6" y="839.6" width="58.4" height="22" fill="#1a1a1a"/>
<rect x="691" y="842.2" width="17.2" height="17.6" fill="url(#gCh)"/>
<rect x="727.4" y="842.2" width="17.2" height="17.6" fill="url(#gCh)"/>
<rect x="710" y="840.6" width="15.6" height="20" fill="#d6d6d6"/>
<rect x="711.2" y="840.6" width="13.2" height="10.6" fill="#1a1a1a"/>
<rect x="713" y="840.6" width="9.6" height="9" fill="#e6e6e6"/>
<rect x="715.3" y="839.6" width="5" height="9" fill="#3e3e3e"/>
<path d="M711 856.2 L715.6 852.2 L720 852.2 L724.6 856.2 L724.6 857.6 L711 857.6Z" fill="#2a2a2a"/>
<rect x="714.2" y="855" width="7.2" height="1.6" fill="#e6e6e6"/>
<circle cx="694.9" cy="845.2" r="1.55" fill="#dadada" stroke="#1a1a1a" stroke-width="1.15"/>
<circle cx="698.7" cy="845.2" r="1.55" fill="#dadada" stroke="#1a1a1a" stroke-width="1.15"/>
<rect x="693.9" y="842.3" width="2" height="1.9" fill="#e4e4e4"/>
<rect x="697.7" y="842.3" width="2" height="1.9" fill="#e4e4e4"/>
<circle cx="736.9" cy="845.2" r="1.55" fill="#dadada" stroke="#1a1a1a" stroke-width="1.15"/>
<circle cx="740.7" cy="845.2" r="1.55" fill="#dadada" stroke="#1a1a1a" stroke-width="1.15"/>
<rect x="735.9" y="842.3" width="2" height="1.9" fill="#e4e4e4"/>
<rect x="739.7" y="842.3" width="2" height="1.9" fill="#e4e4e4"/>
<path d="M717.8 821.2 L720.3 826.2 L720.3 840.6 L715.3 840.6 L715.3 826.2Z" fill="#3e3e3e"/>
<rect x="762.2" y="697.6" width="11.2" height="92.8" fill="url(#gExt)" stroke="#3a3a3a" stroke-width="0.8"/>
<path d="M754 695.2 L761.8 695.2 A130.34 130.34 0 0 1 761.8 792.4 L754 792.4Z" fill="url(#gLens)" stroke="#2a2a2a" stroke-width="1"/>
<line x1="758.2" y1="695.2" x2="758.2" y2="792.4" stroke="#3a3a3a" stroke-width="0.9" />
<rect x="754" y="705.3" width="82.7" height="8.8" fill="url(#hatchH)"/>
<line x1="754" y1="705.3" x2="836.7" y2="705.3" stroke="#2a2624" stroke-width="0.7" />
<line x1="754" y1="714.1" x2="836.7" y2="714.1" stroke="#2a2624" stroke-width="0.7" />
<rect x="754" y="773.6" width="82.7" height="8.8" fill="url(#hatchH)"/>
<line x1="754" y1="773.6" x2="836.7" y2="773.6" stroke="#2a2624" stroke-width="0.7" />
<line x1="754" y1="782.4" x2="836.7" y2="782.4" stroke="#2a2624" stroke-width="0.7" />
<rect x="683.5" y="695.2" width="26.3" height="97.2" fill="url(#gSl)" stroke="#222" stroke-width="1.2"/>
<rect x="725.7" y="695.2" width="28.3" height="97.2" fill="url(#gSr)" stroke="#222" stroke-width="1.2"/>
<line x1="706.2" y1="695.2" x2="706.2" y2="792.4" stroke="#1d1d1b" stroke-width="2.1" />
<line x1="729.6" y1="695.2" x2="729.6" y2="792.4" stroke="#1d1d1b" stroke-width="2.1" />
<circle cx="694.4" cy="709.6" r="3.8" fill="#ececec" stroke="#222" stroke-width="1.3"/>
<circle cx="694.4" cy="709.6" r="1.9" fill="#c9c9c9" stroke="#222" stroke-width="1.1"/>
<circle cx="694.4" cy="743.4" r="3.8" fill="#ececec" stroke="#222" stroke-width="1.3"/>
<circle cx="694.4" cy="743.4" r="1.9" fill="#c9c9c9" stroke="#222" stroke-width="1.1"/>
<circle cx="694.4" cy="777.3" r="3.8" fill="#ececec" stroke="#222" stroke-width="1.3"/>
<circle cx="694.4" cy="777.3" r="1.9" fill="#c9c9c9" stroke="#222" stroke-width="1.1"/>
<path d="M746.7 705 A5.2 4.6 0 0 0 746.7 714.2Z" fill="#e8e8e8" stroke="#222" stroke-width="1.15"/>
<rect x="746.5" y="703.3" width="6.6" height="12.6" fill="#dcdcdc" stroke="#222" stroke-width="1.15"/>
<line x1="746.5" y1="706.5" x2="753.1" y2="706.5" stroke="#222" stroke-width="0.9" />
<line x1="746.5" y1="712.7" x2="753.1" y2="712.7" stroke="#222" stroke-width="0.9" />
<path d="M746.7 772.7 A5.2 4.6 0 0 0 746.7 781.9Z" fill="#e8e8e8" stroke="#222" stroke-width="1.15"/>
<rect x="746.5" y="771" width="6.6" height="12.6" fill="#dcdcdc" stroke="#222" stroke-width="1.15"/>
<line x1="746.5" y1="774.2" x2="753.1" y2="774.2" stroke="#222" stroke-width="0.9" />
<line x1="746.5" y1="780.4" x2="753.1" y2="780.4" stroke="#222" stroke-width="0.9" />
</g>
<circle cx="728.7" cy="749.6" r="103" fill="none" stroke="#1d1d1b" stroke-width="1.3"/>
<text x="858.7" y="422" font-family="'Liberation Sans', sans-serif" font-size="14.5" fill="#666" textLength="107" lengthAdjust="spacingAndGlyphs" stroke="#666" stroke-width="0.2">SEZIONE VERTICALE</text>
<text x="858.7" y="438" font-family="'Liberation Sans', sans-serif" font-size="14.5" fill="#555" font-weight="bold" textLength="64.4" lengthAdjust="spacingAndGlyphs" stroke="#555" stroke-width="0.3">BASE FISSA</text>
<line x1="919.2" y1="451.5" x2="973" y2="451.5" stroke="#1d1d1b" stroke-width="1" />
<path d="M915.2 451.5 L922 449.1 L920.1 451.5 L922 453.9Z" fill="#1d1d1b"/>
<path d="M977 451.5 L970.2 453.9 L972.1 451.5 L970.2 449.1Z" fill="#1d1d1b"/>
<text x="945.6" y="449" font-family="'Liberation Sans', sans-serif" font-size="11.5" fill="#2a2a2a" textLength="9.8" lengthAdjust="spacingAndGlyphs" text-anchor="middle" stroke="#2a2a2a" stroke-width="0.3">85</text>
<rect x="993.7" y="635.4" width="79.3" height="190.9" fill="url(#gSlabV)"/>
<line x1="993.7" y1="635" x2="993.7" y2="826.3" stroke="#1d1d1b" stroke-width="1.3" />
<line x1="993.2" y1="826.3" x2="1073" y2="826.3" stroke="#1d1d1b" stroke-width="1.1" />
<rect x="986" y="624.2" width="87" height="11.4" fill="url(#gPeach2)"/>
<path d="M986 624.2 L1073 624.2 M986 635.6 L1073 635.6 M986 624.2 L986 635.6" fill="none" stroke="#2a1c12" stroke-width="1.25"/>
<rect x="916.6" y="484" width="17.6" height="54.4" fill="url(#gQ1)"/>
<rect x="934.2" y="484" width="23.4" height="54.4" fill="url(#gQ2)"/>
<rect x="957.6" y="484" width="17.4" height="54.4" fill="url(#gQ3)"/>
<line x1="916.9" y1="484" x2="916.9" y2="538.4" stroke="#2a2a2a" stroke-width="1.1" />
<line x1="974.7" y1="484" x2="974.7" y2="538.4" stroke="#2a2a2a" stroke-width="1.1" />
<line x1="934.2" y1="484" x2="934.2" y2="538.4" stroke="#1d1d1b" stroke-width="2.1" />
<line x1="957.6" y1="484" x2="957.6" y2="538.4" stroke="#1d1d1b" stroke-width="2.1" />
<rect x="916.6" y="545.7" width="17.6" height="43.9" fill="url(#gQ1)"/>
<rect x="934.2" y="545.7" width="23.4" height="43.9" fill="url(#gQ2)"/>
<rect x="957.6" y="545.7" width="17.4" height="43.9" fill="url(#gQ3)"/>
<line x1="916.9" y1="545.7" x2="916.9" y2="589.6" stroke="#2a2a2a" stroke-width="1.1" />
<line x1="974.7" y1="545.7" x2="974.7" y2="589.6" stroke="#2a2a2a" stroke-width="1.1" />
<line x1="934.2" y1="545.7" x2="934.2" y2="589.6" stroke="#1d1d1b" stroke-width="2.1" />
<line x1="957.6" y1="545.7" x2="957.6" y2="589.6" stroke="#1d1d1b" stroke-width="2.1" />
<rect x="916.6" y="609.8" width="17.6" height="233" fill="url(#gQ1)"/>
<rect x="934.2" y="609.8" width="23.4" height="233" fill="url(#gQ2)"/>
<rect x="957.6" y="609.8" width="17.4" height="233" fill="url(#gQ3)"/>
<line x1="916.9" y1="609.8" x2="916.9" y2="842.8" stroke="#2a2a2a" stroke-width="1.1" />
<line x1="974.7" y1="609.8" x2="974.7" y2="842.8" stroke="#2a2a2a" stroke-width="1.1" />
<line x1="934.2" y1="609.8" x2="934.2" y2="842.8" stroke="#1d1d1b" stroke-width="2.1" />
<line x1="957.6" y1="609.8" x2="957.6" y2="842.8" stroke="#1d1d1b" stroke-width="2.1" />
<line x1="916.6" y1="842.8" x2="975" y2="842.8" stroke="#1d1d1b" stroke-width="1.2" />
<line x1="916.6" y1="840.2" x2="975" y2="840.2" stroke="#1d1d1b" stroke-width="1" />
<rect x="916.6" y="589.4" width="58.4" height="20.8" fill="#1a1a1a"/>
<rect x="919" y="592" width="17.2" height="16.4" fill="url(#gCh)"/>
<rect x="955.4" y="592" width="17.2" height="16.4" fill="url(#gCh)"/>
<rect x="938" y="590.4" width="15.6" height="18.8" fill="#d6d6d6"/>
<rect x="939.2" y="590.4" width="13.2" height="10.6" fill="#1a1a1a"/>
<rect x="941" y="590.4" width="9.6" height="9" fill="#e6e6e6"/>
<rect x="943.3" y="589.4" width="5" height="9" fill="#3e3e3e"/>
<path d="M939 606 L943.6 602 L948 602 L952.6 606 L952.6 607.4 L939 607.4Z" fill="#2a2a2a"/>
<rect x="942.2" y="604.8" width="7.2" height="1.6" fill="#e6e6e6"/>
<circle cx="922.9" cy="595" r="1.55" fill="#dadada" stroke="#1a1a1a" stroke-width="1.15"/>
<circle cx="926.7" cy="595" r="1.55" fill="#dadada" stroke="#1a1a1a" stroke-width="1.15"/>
<rect x="921.9" y="592.1" width="2" height="1.9" fill="#e4e4e4"/>
<rect x="925.7" y="592.1" width="2" height="1.9" fill="#e4e4e4"/>
<circle cx="964.9" cy="595" r="1.55" fill="#dadada" stroke="#1a1a1a" stroke-width="1.15"/>
<circle cx="968.7" cy="595" r="1.55" fill="#dadada" stroke="#1a1a1a" stroke-width="1.15"/>
<rect x="963.9" y="592.1" width="2" height="1.9" fill="#e4e4e4"/>
<rect x="967.7" y="592.1" width="2" height="1.9" fill="#e4e4e4"/>
<path d="M945.8 571 L948.3 576 L948.3 590.4 L943.3 590.4 L943.3 576Z" fill="#3e3e3e"/>
<rect x="982" y="695.5" width="11" height="96.9" fill="url(#gExt)" stroke="#2a2a2a" stroke-width="1"/>
<rect x="982" y="705.3" width="91" height="8.8" fill="url(#hatchH)"/>
<line x1="982" y1="705.3" x2="1073" y2="705.3" stroke="#2a2624" stroke-width="0.7" />
<line x1="982" y1="714.1" x2="1073" y2="714.1" stroke="#2a2624" stroke-width="0.7" />
<rect x="982" y="773.6" width="91" height="8.8" fill="url(#hatchH)"/>
<line x1="982" y1="773.6" x2="1073" y2="773.6" stroke="#2a2624" stroke-width="0.7" />
<line x1="982" y1="782.4" x2="1073" y2="782.4" stroke="#2a2624" stroke-width="0.7" />
<rect x="911.5" y="695.2" width="26.3" height="97.2" fill="url(#gSl)" stroke="#222" stroke-width="1.2"/>
<rect x="953.7" y="695.2" width="28.3" height="97.2" fill="url(#gSr)" stroke="#222" stroke-width="1.2"/>
<line x1="934.2" y1="695.2" x2="934.2" y2="792.4" stroke="#1d1d1b" stroke-width="2.1" />
<line x1="957.6" y1="695.2" x2="957.6" y2="792.4" stroke="#1d1d1b" stroke-width="2.1" />
<circle cx="922.4" cy="709.6" r="3.8" fill="#ececec" stroke="#222" stroke-width="1.3"/>
<circle cx="922.4" cy="709.6" r="1.9" fill="#c9c9c9" stroke="#222" stroke-width="1.1"/>
<circle cx="922.4" cy="743.4" r="3.8" fill="#ececec" stroke="#222" stroke-width="1.3"/>
<circle cx="922.4" cy="743.4" r="1.9" fill="#c9c9c9" stroke="#222" stroke-width="1.1"/>
<circle cx="922.4" cy="777.3" r="3.8" fill="#ececec" stroke="#222" stroke-width="1.3"/>
<circle cx="922.4" cy="777.3" r="1.9" fill="#c9c9c9" stroke="#222" stroke-width="1.1"/>
<path d="M974.7 705 A5.2 4.6 0 0 0 974.7 714.2Z" fill="#e8e8e8" stroke="#222" stroke-width="1.15"/>
<rect x="974.5" y="703.3" width="6.6" height="12.6" fill="#dcdcdc" stroke="#222" stroke-width="1.15"/>
<line x1="974.5" y1="706.5" x2="981.1" y2="706.5" stroke="#222" stroke-width="0.9" />
<line x1="974.5" y1="712.7" x2="981.1" y2="712.7" stroke="#222" stroke-width="0.9" />
<path d="M974.7 772.7 A5.2 4.6 0 0 0 974.7 781.9Z" fill="#e8e8e8" stroke="#222" stroke-width="1.15"/>
<rect x="974.5" y="771" width="6.6" height="12.6" fill="#dcdcdc" stroke="#222" stroke-width="1.15"/>
<line x1="974.5" y1="774.2" x2="981.1" y2="774.2" stroke="#222" stroke-width="0.9" />
<line x1="974.5" y1="780.4" x2="981.1" y2="780.4" stroke="#222" stroke-width="0.9" />
<rect x="914.3" y="456.5" width="62.6" height="30.2" rx="1.4" fill="#1a1a1a"/>
<rect x="917.1" y="459.2" width="57" height="3.8" fill="url(#gStrip)"/>
<rect x="917.1" y="460.7" width="5.2" height="2.3" fill="#3a3a3a"/>
<rect x="968.9" y="460.7" width="5.2" height="2.3" fill="#3a3a3a"/>
<rect x="918.9" y="464.9" width="17.2" height="17.2" fill="url(#gCh)"/>
<rect x="917.7" y="464.9" width="1.2" height="17.2" fill="#6a6a6a"/>
<rect x="955.5" y="464.9" width="16.8" height="17.2" fill="url(#gCh)"/>
<rect x="972.3" y="464.9" width="1.2" height="17.2" fill="#6a6a6a"/>
<rect x="937.7" y="465.1" width="16.2" height="5.6" fill="#3a3a3a"/>
<rect x="940.9" y="466.1" width="9.8" height="1.8" fill="#cfcfcf"/>
<rect x="937.7" y="469.1" width="1.6" height="14.8" fill="#bdbdbd"/>
<rect x="952.3" y="469.1" width="1.6" height="14.8" fill="#bdbdbd"/>
<rect x="940.9" y="472.7" width="9.8" height="11.2" fill="#e4e4e4"/>
<circle cx="923" cy="478.9" r="1.55" fill="#dadada" stroke="#1a1a1a" stroke-width="1.15"/>
<circle cx="926.8" cy="478.9" r="1.55" fill="#dadada" stroke="#1a1a1a" stroke-width="1.15"/>
<rect x="923.6" y="480.2" width="2.6" height="1.5" fill="#f0f0f0"/>
<circle cx="964.4" cy="478.9" r="1.55" fill="#dadada" stroke="#1a1a1a" stroke-width="1.15"/>
<circle cx="968.2" cy="478.9" r="1.55" fill="#dadada" stroke="#1a1a1a" stroke-width="1.15"/>
<rect x="965" y="480.2" width="2.6" height="1.5" fill="#f0f0f0"/>
<rect x="917.2" y="484.3" width="16.2" height="2.4" fill="url(#gQ1)"/>
<rect x="935" y="484.3" width="21.8" height="2.4" fill="url(#gQ2)"/>
<rect x="958.4" y="484.3" width="16" height="2.4" fill="url(#gQ3)"/>
<path d="M945.8 502.1 L948.2 497.1 L948.2 471.9 L943.4 471.9 L943.4 497.1Z" fill="#3e3e3e"/>
<line x1="921.6" y1="505.7" x2="970" y2="505.7" stroke="#1d1d1b" stroke-width="1" />
<path d="M918 505.7 L924.5 503.4 L922.68 505.7 L924.5 508Z" fill="#1d1d1b"/>
<path d="M973.6 505.7 L967.1 508 L968.92 505.7 L967.1 503.4Z" fill="#1d1d1b"/>
<text x="946.6" y="516.3" font-family="'Liberation Sans', sans-serif" font-size="11.5" fill="#2a2a2a" textLength="9.8" lengthAdjust="spacingAndGlyphs" text-anchor="middle" stroke="#2a2a2a" stroke-width="0.3">80</text>
<line x1="938.2" y1="564" x2="953.6" y2="564" stroke="#1d1d1b" stroke-width="1" />
<path d="M935 564 L940.5 561.9 L938.96 564 L940.5 566.1Z" fill="#1d1d1b"/>
<path d="M956.8 564 L951.3 566.1 L952.84 564 L951.3 561.9Z" fill="#1d1d1b"/>
<text x="945.2" y="559.8" font-family="'Liberation Sans', sans-serif" font-size="11.5" fill="#2a2a2a" textLength="9.8" lengthAdjust="spacingAndGlyphs" text-anchor="middle" stroke="#2a2a2a" stroke-width="0.3">30</text>
<line x1="852.7" y1="539.5" x2="1073.5" y2="539.5" stroke="#1d1d1b" stroke-width="1.25" stroke-dasharray="7.7 7.52"/>
<line x1="852.7" y1="546.3" x2="1073.5" y2="546.3" stroke="#1d1d1b" stroke-width="1.25" stroke-dasharray="7.7 7.52"/>
<line x1="954" y1="579.3" x2="1074.7" y2="579.3" stroke="#1d1d1b" stroke-width="1.1" />
<circle cx="954" cy="579.3" r="1.2" fill="#1d1d1b"/>
<text x="997.8" y="575.7" font-family="'Liberation Sans', sans-serif" font-size="11.3" fill="#5e5e5e" textLength="76.4" lengthAdjust="spacingAndGlyphs" stroke="#5e5e5e" stroke-width="0.2">Profilo 30 x 12 mm</text>
<g filter="url(#fShadow)">
<path d="M1014.8 471.2 L1090.5 475.2 L1090.5 480.6 L1017.3 480.6Z" fill="#dcdccb"/>
<path d="M986.7 501.4 L993.1 482.6 L1017.3 479.8 L1090.7 475.6 L1091.3 526.6 L993.7 527 Z" fill="#f2f3e0"/>
</g>
<text x="1012.7" y="500.5" font-family="'Liberation Sans', sans-serif" font-size="16.2" fill="#a8433b" textLength="51" lengthAdjust="spacingAndGlyphs" stroke="#a8433b" stroke-width="0.3">PROFILO</text>
<text x="1017.3" y="519.9" font-family="'Liberation Sans', sans-serif" font-size="16" fill="#b83236" font-weight="bold" textLength="42.4" lengthAdjust="spacingAndGlyphs" stroke="#b83236" stroke-width="0.3">80 / 60</text>
<text x="1089.4" y="632.9" font-family="'Liberation Sans', sans-serif" font-size="12.8" fill="#666" font-weight="bold" textLength="90.6" lengthAdjust="spacingAndGlyphs" stroke="#666" stroke-width="0.3">BASE ORIENTABILE</text>
<circle cx="1141.7" cy="749.4" r="103" fill="#fff"/>
<g clip-path="url(#clipC)">
<rect x="1178" y="600" width="71.7" height="226.3" fill="url(#gSlabV2)"/>
<line x1="1178" y1="600" x2="1178" y2="826.3" stroke="#3a3a3a" stroke-width="0.9" />
<line x1="1178" y1="826.3" x2="1249.7" y2="826.3" stroke="#1d1d1b" stroke-width="1" />
<rect x="1093.2" y="484" width="17.6" height="54.4" fill="url(#gQ1)"/>
<rect x="1110.8" y="484" width="23.4" height="54.4" fill="url(#gQ2)"/>
<rect x="1134.2" y="484" width="17.4" height="54.4" fill="url(#gQ3)"/>
<line x1="1093.5" y1="484" x2="1093.5" y2="538.4" stroke="#2a2a2a" stroke-width="1.1" />
<line x1="1151.3" y1="484" x2="1151.3" y2="538.4" stroke="#2a2a2a" stroke-width="1.1" />
<line x1="1110.8" y1="484" x2="1110.8" y2="538.4" stroke="#1d1d1b" stroke-width="2.1" />
<line x1="1134.2" y1="484" x2="1134.2" y2="538.4" stroke="#1d1d1b" stroke-width="2.1" />
<rect x="1093.2" y="545.7" width="17.6" height="43.9" fill="url(#gQ1)"/>
<rect x="1110.8" y="545.7" width="23.4" height="43.9" fill="url(#gQ2)"/>
<rect x="1134.2" y="545.7" width="17.4" height="43.9" fill="url(#gQ3)"/>
<line x1="1093.5" y1="545.7" x2="1093.5" y2="589.6" stroke="#2a2a2a" stroke-width="1.1" />
<line x1="1151.3" y1="545.7" x2="1151.3" y2="589.6" stroke="#2a2a2a" stroke-width="1.1" />
<line x1="1110.8" y1="545.7" x2="1110.8" y2="589.6" stroke="#1d1d1b" stroke-width="2.1" />
<line x1="1134.2" y1="545.7" x2="1134.2" y2="589.6" stroke="#1d1d1b" stroke-width="2.1" />
<rect x="1093.2" y="609.8" width="17.6" height="233" fill="url(#gQ1)"/>
<rect x="1110.8" y="609.8" width="23.4" height="233" fill="url(#gQ2)"/>
<rect x="1134.2" y="609.8" width="17.4" height="233" fill="url(#gQ3)"/>
<line x1="1093.5" y1="609.8" x2="1093.5" y2="842.8" stroke="#2a2a2a" stroke-width="1.1" />
<line x1="1151.3" y1="609.8" x2="1151.3" y2="842.8" stroke="#2a2a2a" stroke-width="1.1" />
<line x1="1110.8" y1="609.8" x2="1110.8" y2="842.8" stroke="#1d1d1b" stroke-width="2.1" />
<line x1="1134.2" y1="609.8" x2="1134.2" y2="842.8" stroke="#1d1d1b" stroke-width="2.1" />
<line x1="1093.2" y1="842.8" x2="1151.6" y2="842.8" stroke="#1d1d1b" stroke-width="1.2" />
<line x1="1093.2" y1="840.2" x2="1151.6" y2="840.2" stroke="#1d1d1b" stroke-width="1" />
<rect x="1093.2" y="589.4" width="58.4" height="20.8" fill="#1a1a1a"/>
<rect x="1095.6" y="592" width="17.2" height="16.4" fill="url(#gCh)"/>
<rect x="1132" y="592" width="17.2" height="16.4" fill="url(#gCh)"/>
<rect x="1114.6" y="590.4" width="15.6" height="18.8" fill="#d6d6d6"/>
<rect x="1115.8" y="590.4" width="13.2" height="10.6" fill="#1a1a1a"/>
<rect x="1117.6" y="590.4" width="9.6" height="9" fill="#e6e6e6"/>
<rect x="1119.9" y="589.4" width="5" height="9" fill="#3e3e3e"/>
<path d="M1115.6 606 L1120.2 602 L1124.6 602 L1129.2 606 L1129.2 607.4 L1115.6 607.4Z" fill="#2a2a2a"/>
<rect x="1118.8" y="604.8" width="7.2" height="1.6" fill="#e6e6e6"/>
<circle cx="1099.5" cy="595" r="1.55" fill="#dadada" stroke="#1a1a1a" stroke-width="1.15"/>
<circle cx="1103.3" cy="595" r="1.55" fill="#dadada" stroke="#1a1a1a" stroke-width="1.15"/>
<rect x="1098.5" y="592.1" width="2" height="1.9" fill="#e4e4e4"/>
<rect x="1102.3" y="592.1" width="2" height="1.9" fill="#e4e4e4"/>
<circle cx="1141.5" cy="595" r="1.55" fill="#dadada" stroke="#1a1a1a" stroke-width="1.15"/>
<circle cx="1145.3" cy="595" r="1.55" fill="#dadada" stroke="#1a1a1a" stroke-width="1.15"/>
<rect x="1140.5" y="592.1" width="2" height="1.9" fill="#e4e4e4"/>
<rect x="1144.3" y="592.1" width="2" height="1.9" fill="#e4e4e4"/>
<path d="M1122.4 571 L1124.9 576 L1124.9 590.4 L1119.9 590.4 L1119.9 576Z" fill="#3e3e3e"/>
<rect x="1166.8" y="697.6" width="11.2" height="92.8" fill="url(#gExt)" stroke="#3a3a3a" stroke-width="0.8"/>
<path d="M1158.6 695.2 L1166.4 695.2 A130.34 130.34 0 0 1 1166.4 792.4 L1158.6 792.4Z" fill="url(#gLens)" stroke="#2a2a2a" stroke-width="1"/>
<line x1="1162.8" y1="695.2" x2="1162.8" y2="792.4" stroke="#3a3a3a" stroke-width="0.9" />
<rect x="1158.6" y="705.3" width="91.1" height="8.8" fill="url(#hatchH)"/>
<line x1="1158.6" y1="705.3" x2="1249.7" y2="705.3" stroke="#2a2624" stroke-width="0.7" />
<line x1="1158.6" y1="714.1" x2="1249.7" y2="714.1" stroke="#2a2624" stroke-width="0.7" />
<rect x="1158.6" y="773.6" width="91.1" height="8.8" fill="url(#hatchH)"/>
<line x1="1158.6" y1="773.6" x2="1249.7" y2="773.6" stroke="#2a2624" stroke-width="0.7" />
<line x1="1158.6" y1="782.4" x2="1249.7" y2="782.4" stroke="#2a2624" stroke-width="0.7" />
<rect x="1088.1" y="695.2" width="26.3" height="97.2" fill="url(#gSl)" stroke="#222" stroke-width="1.2"/>
<rect x="1130.3" y="695.2" width="28.3" height="97.2" fill="url(#gSr)" stroke="#222" stroke-width="1.2"/>
<line x1="1110.8" y1="695.2" x2="1110.8" y2="792.4" stroke="#1d1d1b" stroke-width="2.1" />
<line x1="1134.2" y1="695.2" x2="1134.2" y2="792.4" stroke="#1d1d1b" stroke-width="2.1" />
<circle cx="1099" cy="709.6" r="3.8" fill="#ececec" stroke="#222" stroke-width="1.3"/>
<circle cx="1099" cy="709.6" r="1.9" fill="#c9c9c9" stroke="#222" stroke-width="1.1"/>
<circle cx="1099" cy="743.4" r="3.8" fill="#ececec" stroke="#222" stroke-width="1.3"/>
<circle cx="1099" cy="743.4" r="1.9" fill="#c9c9c9" stroke="#222" stroke-width="1.1"/>
<circle cx="1099" cy="777.3" r="3.8" fill="#ececec" stroke="#222" stroke-width="1.3"/>
<circle cx="1099" cy="777.3" r="1.9" fill="#c9c9c9" stroke="#222" stroke-width="1.1"/>
<path d="M1151.3 705 A5.2 4.6 0 0 0 1151.3 714.2Z" fill="#e8e8e8" stroke="#222" stroke-width="1.15"/>
<rect x="1151.1" y="703.3" width="6.6" height="12.6" fill="#dcdcdc" stroke="#222" stroke-width="1.15"/>
<line x1="1151.1" y1="706.5" x2="1157.7" y2="706.5" stroke="#222" stroke-width="0.9" />
<line x1="1151.1" y1="712.7" x2="1157.7" y2="712.7" stroke="#222" stroke-width="0.9" />
<path d="M1151.3 772.7 A5.2 4.6 0 0 0 1151.3 781.9Z" fill="#e8e8e8" stroke="#222" stroke-width="1.15"/>
<rect x="1151.1" y="771" width="6.6" height="12.6" fill="#dcdcdc" stroke="#222" stroke-width="1.15"/>
<line x1="1151.1" y1="774.2" x2="1157.7" y2="774.2" stroke="#222" stroke-width="0.9" />
<line x1="1151.1" y1="780.4" x2="1157.7" y2="780.4" stroke="#222" stroke-width="0.9" />
</g>
<circle cx="1141.7" cy="749.4" r="103" fill="none" stroke="#1d1d1b" stroke-width="1.3"/>
</svg>
</body></html>
